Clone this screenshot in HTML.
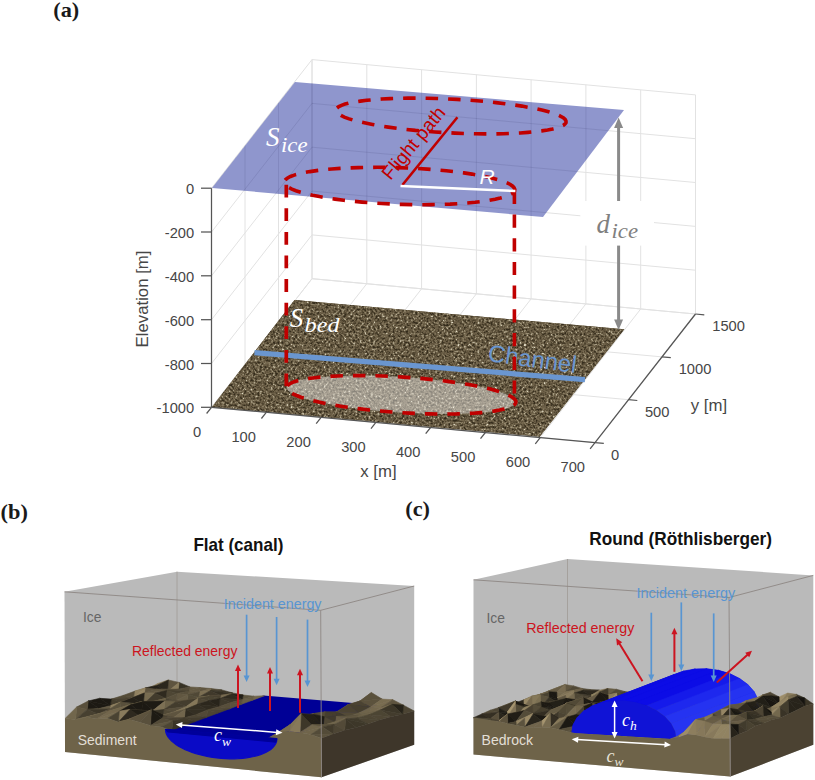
<!DOCTYPE html>
<html><head><meta charset="utf-8"><title>figure</title>
<style>html,body{margin:0;padding:0;background:#fff;}svg{display:block;}</style></head>
<body>
<svg width="815" height="780" viewBox="0 0 815 780">
<rect width="815" height="780" fill="#fff"/>
<defs>
<filter id="speck" x="0" y="0" width="100%" height="100%" color-interpolation-filters="sRGB">
<feTurbulence type="fractalNoise" baseFrequency="0.45" numOctaves="2" seed="7" result="n"/>
<feColorMatrix in="n" type="matrix" values="1.7 0 0 0 -0.43  1.7 0 0 0 -0.43  1.7 0 0 0 -0.43  0 0 0 0 1" result="g"/>
<feComponentTransfer in="g" result="c">
<feFuncR type="table" tableValues="0.20 0.30 0.40 0.47 0.64 0.88"/>
<feFuncG type="table" tableValues="0.17 0.26 0.35 0.42 0.60 0.86"/>
<feFuncB type="table" tableValues="0.11 0.18 0.26 0.32 0.50 0.78"/>
</feComponentTransfer>
<feGaussianBlur in="c" stdDeviation="0.45" result="bl"/>
<feComposite in="bl" in2="SourceGraphic" operator="in"/>
</filter>
</defs>
<g stroke="#e2e2e2" stroke-width="1" fill="none">
<line x1="211.5" y1="407.3" x2="312.0" y2="278.7" />
<line x1="312.0" y1="278.7" x2="312.0" y2="59.6" />
<line x1="266.3" y1="412.3" x2="366.8" y2="283.7" />
<line x1="366.8" y1="283.7" x2="366.8" y2="64.6" />
<line x1="321.1" y1="417.4" x2="421.6" y2="288.8" />
<line x1="421.6" y1="288.8" x2="421.6" y2="69.7" />
<line x1="375.9" y1="422.4" x2="476.4" y2="293.8" />
<line x1="476.4" y1="293.8" x2="476.4" y2="74.7" />
<line x1="430.6" y1="427.5" x2="531.1" y2="298.9" />
<line x1="531.1" y1="298.9" x2="531.1" y2="79.8" />
<line x1="485.4" y1="432.5" x2="585.9" y2="303.9" />
<line x1="585.9" y1="303.9" x2="585.9" y2="84.8" />
<line x1="540.2" y1="437.6" x2="640.7" y2="309.0" />
<line x1="640.7" y1="309.0" x2="640.7" y2="89.9" />
<line x1="595.0" y1="442.6" x2="695.5" y2="314.0" />
<line x1="695.5" y1="314.0" x2="695.5" y2="94.9" />
<line x1="211.5" y1="407.3" x2="595.0" y2="442.6" />
<line x1="211.5" y1="407.3" x2="211.5" y2="188.2" />
<line x1="245.0" y1="364.4" x2="628.5" y2="399.7" />
<line x1="245.0" y1="364.4" x2="245.0" y2="145.3" />
<line x1="278.5" y1="321.6" x2="662.0" y2="356.9" />
<line x1="278.5" y1="321.6" x2="278.5" y2="102.5" />
<line x1="312.0" y1="278.7" x2="695.5" y2="314.0" />
<line x1="312.0" y1="278.7" x2="312.0" y2="59.6" />
<line x1="211.5" y1="407.3" x2="312.0" y2="278.7" />
<line x1="312.0" y1="278.7" x2="695.5" y2="314.0" />
<line x1="211.5" y1="363.5" x2="312.0" y2="234.9" />
<line x1="312.0" y1="234.9" x2="695.5" y2="270.2" />
<line x1="211.5" y1="319.7" x2="312.0" y2="191.1" />
<line x1="312.0" y1="191.1" x2="695.5" y2="226.4" />
<line x1="211.5" y1="275.8" x2="312.0" y2="147.2" />
<line x1="312.0" y1="147.2" x2="695.5" y2="182.5" />
<line x1="211.5" y1="232.0" x2="312.0" y2="103.4" />
<line x1="312.0" y1="103.4" x2="695.5" y2="138.7" />
<line x1="211.5" y1="188.2" x2="312.0" y2="59.6" />
<line x1="312.0" y1="59.6" x2="695.5" y2="94.9" />
</g>
<polygon points="212.0,407.0 294.5,300.0 624.3,329.3 539.7,436.7" fill="#67593f"/>
<polygon points="212.0,407.0 294.5,300.0 624.3,329.3 539.7,436.7" fill="#000" filter="url(#speck)"/>
<line x1="254.5" y1="352.6" x2="585.0" y2="379.6" stroke="#6a96d0" stroke-width="5.2"/>
<path d="M515.3 403.8 L515.9 402.3 L515.7 400.7 L514.5 399.1 L512.5 397.4 L509.7 395.8 L506.0 394.1 L501.6 392.4 L496.3 390.8 L490.4 389.1 L483.8 387.6 L476.5 386.0 L468.7 384.6 L460.4 383.2 L451.6 381.9 L442.4 380.7 L432.9 379.6 L423.2 378.6 L413.3 377.8 L403.3 377.1 L393.3 376.5 L383.4 376.0 L373.6 375.7 L364.0 375.6 L354.7 375.6 L345.7 375.7 L337.2 376.0 L329.2 376.4 L321.7 377.0 L314.8 377.7 L308.6 378.5 L303.1 379.5 L298.3 380.5 L294.3 381.7 L291.1 383.0 L288.8 384.4 L287.3 385.8 L286.7 387.3 L286.9 388.9 L288.1 390.5 L290.1 392.2 L292.9 393.8 L296.6 395.5 L301.0 397.2 L306.3 398.8 L312.2 400.5 L318.8 402.0 L326.1 403.6 L333.9 405.0 L342.2 406.4 L351.0 407.7 L360.2 408.9 L369.7 410.0 L379.4 411.0 L389.3 411.8 L399.3 412.5 L409.3 413.1 L419.2 413.6 L429.0 413.9 L438.6 414.0 L447.9 414.0 L456.9 413.9 L465.4 413.6 L473.4 413.2 L480.9 412.6 L487.8 411.9 L494.0 411.1 L499.5 410.1 L504.3 409.1 L508.3 407.9 L511.5 406.6 L513.8 405.2Z" fill="#fff" fill-opacity="0.42"/>
<path d="M515.3 403.8 L515.9 402.3 L515.7 400.7 L514.5 399.1 L512.5 397.4 L509.7 395.8 L506.0 394.1 L501.6 392.4 L496.3 390.8 L490.4 389.1 L483.8 387.6 L476.5 386.0 L468.7 384.6 L460.4 383.2 L451.6 381.9 L442.4 380.7 L432.9 379.6 L423.2 378.6 L413.3 377.8 L403.3 377.1 L393.3 376.5 L383.4 376.0 L373.6 375.7 L364.0 375.6 L354.7 375.6 L345.7 375.7 L337.2 376.0 L329.2 376.4 L321.7 377.0 L314.8 377.7 L308.6 378.5 L303.1 379.5 L298.3 380.5 L294.3 381.7 L291.1 383.0 L288.8 384.4 L287.3 385.8 L286.7 387.3 L286.9 388.9 L288.1 390.5 L290.1 392.2 L292.9 393.8 L296.6 395.5 L301.0 397.2 L306.3 398.8 L312.2 400.5 L318.8 402.0 L326.1 403.6 L333.9 405.0 L342.2 406.4 L351.0 407.7 L360.2 408.9 L369.7 410.0 L379.4 411.0 L389.3 411.8 L399.3 412.5 L409.3 413.1 L419.2 413.6 L429.0 413.9 L438.6 414.0 L447.9 414.0 L456.9 413.9 L465.4 413.6 L473.4 413.2 L480.9 412.6 L487.8 411.9 L494.0 411.1 L499.5 410.1 L504.3 409.1 L508.3 407.9 L511.5 406.6 L513.8 405.2Z" fill="none" stroke="#c00000" stroke-width="3.6" stroke-dasharray="12.5 10"/>
<text transform="translate(487.3,361) rotate(7.8)" font-family="Liberation Sans, sans-serif" font-size="24" fill="#6a96d0" textLength="89" lengthAdjust="spacingAndGlyphs">Channel</text>
<text x="289.8" y="326.8" font-family="Liberation Serif, serif" font-style="italic" font-size="27" fill="#fff">S</text>
<text x="304.6" y="332.4" font-family="Liberation Serif, serif" font-style="italic" font-size="20.5" fill="#fff" textLength="35" lengthAdjust="spacingAndGlyphs">bed</text>
<polygon points="212.0,188.0 295.0,82.0 624.0,110.0 543.0,217.0" fill="#8f96cd"/>
<clipPath id="icec"><polygon points="212.0,188.0 295.0,82.0 624.0,110.0 543.0,217.0"/></clipPath>
<g clip-path="url(#icec)"><g stroke="rgba(40,40,90,0.12)" stroke-width="1" fill="none">
<line x1="211.5" y1="407.3" x2="312.0" y2="278.7" />
<line x1="312.0" y1="278.7" x2="312.0" y2="59.6" />
<line x1="266.3" y1="412.3" x2="366.8" y2="283.7" />
<line x1="366.8" y1="283.7" x2="366.8" y2="64.6" />
<line x1="321.1" y1="417.4" x2="421.6" y2="288.8" />
<line x1="421.6" y1="288.8" x2="421.6" y2="69.7" />
<line x1="375.9" y1="422.4" x2="476.4" y2="293.8" />
<line x1="476.4" y1="293.8" x2="476.4" y2="74.7" />
<line x1="430.6" y1="427.5" x2="531.1" y2="298.9" />
<line x1="531.1" y1="298.9" x2="531.1" y2="79.8" />
<line x1="485.4" y1="432.5" x2="585.9" y2="303.9" />
<line x1="585.9" y1="303.9" x2="585.9" y2="84.8" />
<line x1="540.2" y1="437.6" x2="640.7" y2="309.0" />
<line x1="640.7" y1="309.0" x2="640.7" y2="89.9" />
<line x1="595.0" y1="442.6" x2="695.5" y2="314.0" />
<line x1="695.5" y1="314.0" x2="695.5" y2="94.9" />
<line x1="211.5" y1="407.3" x2="595.0" y2="442.6" />
<line x1="211.5" y1="407.3" x2="211.5" y2="188.2" />
<line x1="245.0" y1="364.4" x2="628.5" y2="399.7" />
<line x1="245.0" y1="364.4" x2="245.0" y2="145.3" />
<line x1="278.5" y1="321.6" x2="662.0" y2="356.9" />
<line x1="278.5" y1="321.6" x2="278.5" y2="102.5" />
<line x1="312.0" y1="278.7" x2="695.5" y2="314.0" />
<line x1="312.0" y1="278.7" x2="312.0" y2="59.6" />
<line x1="211.5" y1="407.3" x2="312.0" y2="278.7" />
<line x1="312.0" y1="278.7" x2="695.5" y2="314.0" />
<line x1="211.5" y1="363.5" x2="312.0" y2="234.9" />
<line x1="312.0" y1="234.9" x2="695.5" y2="270.2" />
<line x1="211.5" y1="319.7" x2="312.0" y2="191.1" />
<line x1="312.0" y1="191.1" x2="695.5" y2="226.4" />
<line x1="211.5" y1="275.8" x2="312.0" y2="147.2" />
<line x1="312.0" y1="147.2" x2="695.5" y2="182.5" />
<line x1="211.5" y1="232.0" x2="312.0" y2="103.4" />
<line x1="312.0" y1="103.4" x2="695.5" y2="138.7" />
<line x1="211.5" y1="188.2" x2="312.0" y2="59.6" />
<line x1="312.0" y1="59.6" x2="695.5" y2="94.9" />
</g></g>
<line x1="286.3" y1="184.7" x2="286.3" y2="389.0" stroke="#c00000" stroke-width="3.7" stroke-dasharray="12.8 10.8"/>
<line x1="514.4" y1="190.8" x2="514.4" y2="401.5" stroke="#c00000" stroke-width="3.6" stroke-dasharray="13.2 10.5"/>
<path d="M514.5 191.0 L514.8 189.4 L514.1 187.8 L512.7 186.2 L510.3 184.5 L507.1 182.9 L503.1 181.3 L498.3 179.8 L492.7 178.3 L486.5 176.8 L479.5 175.4 L472.0 174.1 L463.9 172.9 L455.4 171.8 L446.3 170.8 L437.0 169.9 L427.3 169.1 L417.5 168.5 L407.5 168.0 L397.4 167.6 L387.4 167.4 L377.5 167.3 L367.7 167.4 L358.1 167.6 L348.9 167.9 L340.1 168.4 L331.7 169.0 L323.8 169.7 L316.5 170.6 L309.9 171.6 L303.9 172.7 L298.7 173.9 L294.2 175.1 L290.5 176.5 L287.6 178.0 L285.6 179.5 L284.5 181.0 L284.2 182.6 L284.9 184.2 L286.3 185.8 L288.7 187.5 L291.9 189.1 L295.9 190.7 L300.7 192.2 L306.3 193.7 L312.5 195.2 L319.5 196.6 L327.0 197.9 L335.1 199.1 L343.6 200.2 L352.7 201.2 L362.0 202.1 L371.7 202.9 L381.5 203.5 L391.5 204.0 L401.6 204.4 L411.6 204.6 L421.5 204.7 L431.3 204.6 L440.9 204.4 L450.1 204.1 L458.9 203.6 L467.3 203.0 L475.2 202.3 L482.5 201.4 L489.1 200.4 L495.1 199.3 L500.3 198.1 L504.8 196.9 L508.5 195.5 L511.4 194.0 L513.4 192.5Z" fill="none" stroke="#c00000" stroke-width="3.6" stroke-dasharray="12.5 10"/>
<path d="M565.0 124.0 L566.0 122.6 L566.0 121.1 L565.3 119.6 L563.6 118.0 L561.1 116.5 L557.7 114.9 L553.6 113.4 L548.6 111.8 L542.9 110.3 L536.5 108.9 L529.5 107.5 L521.9 106.1 L513.7 104.9 L505.0 103.7 L496.0 102.6 L486.6 101.6 L476.9 100.8 L467.0 100.0 L457.0 99.4 L447.0 98.9 L436.9 98.5 L427.0 98.2 L417.3 98.1 L407.9 98.1 L398.7 98.3 L390.0 98.6 L381.7 99.0 L374.0 99.6 L366.8 100.3 L360.3 101.1 L354.4 102.0 L349.3 103.0 L345.0 104.1 L341.5 105.3 L338.8 106.6 L337.0 108.0 L336.0 109.4 L336.0 110.9 L336.7 112.4 L338.4 114.0 L340.9 115.5 L344.3 117.1 L348.4 118.6 L353.4 120.2 L359.1 121.7 L365.5 123.1 L372.5 124.5 L380.1 125.9 L388.3 127.1 L397.0 128.3 L406.0 129.4 L415.4 130.4 L425.1 131.2 L435.0 132.0 L445.0 132.6 L455.0 133.1 L465.1 133.5 L475.0 133.8 L484.7 133.9 L494.1 133.9 L503.3 133.7 L512.0 133.4 L520.3 133.0 L528.0 132.4 L535.2 131.7 L541.7 130.9 L547.6 130.0 L552.7 129.0 L557.0 127.9 L560.5 126.7 L563.2 125.4Z" fill="none" stroke="#c00000" stroke-width="3.6" stroke-dasharray="12.5 10"/>
<line x1="402.4" y1="185.0" x2="457.4" y2="117.3" stroke="#c00000" stroke-width="2.6"/>
<line x1="400.5" y1="186.0" x2="515.4" y2="191.0" stroke="#fff" stroke-width="2.4"/>
<text transform="translate(390.5,181) rotate(-50.5)" font-family="Liberation Sans, sans-serif" font-size="19" fill="#c00000" textLength="88" lengthAdjust="spacingAndGlyphs">Flight path</text>
<text x="479.5" y="184" font-family="Liberation Sans, sans-serif" font-style="italic" font-size="21" fill="#fff">R</text>
<text x="266" y="146" font-family="Liberation Serif, serif" font-style="italic" font-size="27" fill="#fff">S</text>
<text x="281" y="151.5" font-family="Liberation Serif, serif" font-style="italic" font-size="20" fill="#fff" textLength="26.5" lengthAdjust="spacingAndGlyphs">ice</text>
<line x1="618.6" y1="126.0" x2="618.6" y2="322.0" stroke="#8a8a8a" stroke-width="3"/>
<polygon points="618.6,117.5 614.1,128 623.1,128" fill="#8a8a8a"/>
<polygon points="618.6,330 614.1,319.5 623.1,319.5" fill="#8a8a8a"/>
<rect x="580.3" y="201" width="73.7" height="44.6" fill="#fff"/>
<text x="596.5" y="233" font-family="Liberation Serif, serif" font-style="italic" font-size="27" fill="#808080">d</text>
<text x="611.5" y="238" font-family="Liberation Serif, serif" font-style="italic" font-size="20" fill="#808080" textLength="26.5" lengthAdjust="spacingAndGlyphs">ice</text>
<g stroke="#555555" stroke-width="1.25" fill="none">
<line x1="211.5" y1="188.2" x2="211.5" y2="407.3" />
<line x1="211.5" y1="407.3" x2="595.0" y2="442.6" />
<line x1="595.0" y1="442.6" x2="695.5" y2="314.0" />
<line x1="211.5" y1="407.3" x2="201.0" y2="407.3" />
<line x1="211.5" y1="363.5" x2="201.0" y2="363.5" />
<line x1="211.5" y1="319.7" x2="201.0" y2="319.7" />
<line x1="211.5" y1="275.8" x2="201.0" y2="275.8" />
<line x1="211.5" y1="232.0" x2="201.0" y2="232.0" />
<line x1="211.5" y1="188.2" x2="201.0" y2="188.2" />
<line x1="211.5" y1="407.3" x2="206.6" y2="413.5" />
<line x1="266.3" y1="412.3" x2="261.4" y2="418.5" />
<line x1="321.1" y1="417.4" x2="316.2" y2="423.6" />
<line x1="375.9" y1="422.4" x2="371.0" y2="428.6" />
<line x1="430.6" y1="427.5" x2="425.7" y2="433.7" />
<line x1="485.4" y1="432.5" x2="480.5" y2="438.7" />
<line x1="540.2" y1="437.6" x2="535.3" y2="443.8" />
<line x1="595.0" y1="442.6" x2="590.1" y2="448.8" />
<line x1="595.0" y1="442.6" x2="603.8" y2="443.4" />
<line x1="628.5" y1="399.7" x2="637.3" y2="400.5" />
<line x1="662.0" y1="356.9" x2="670.8" y2="357.7" />
<line x1="695.5" y1="314.0" x2="704.3" y2="314.8" />
</g>
<g font-family="Liberation Sans, sans-serif" font-size="14.7" fill="#464646">
<text x="194.2" y="413.4" text-anchor="end">-1000</text>
<text x="194.2" y="369.6" text-anchor="end">-800</text>
<text x="194.2" y="325.8" text-anchor="end">-600</text>
<text x="194.2" y="281.9" text-anchor="end">-400</text>
<text x="194.2" y="238.1" text-anchor="end">-200</text>
<text x="194.2" y="194.3" text-anchor="end">0</text>
<text x="197.0" y="437.4" text-anchor="middle">0</text>
<text x="243.7" y="442.3" text-anchor="middle">100</text>
<text x="298.6" y="447.2" text-anchor="middle">200</text>
<text x="353.4" y="452.1" text-anchor="middle">300</text>
<text x="408.2" y="456.9" text-anchor="middle">400</text>
<text x="463.1" y="461.8" text-anchor="middle">500</text>
<text x="518.0" y="466.7" text-anchor="middle">600</text>
<text x="572.8" y="471.6" text-anchor="middle">700</text>
<text x="615.2" y="459.8" text-anchor="middle">0</text>
<text x="657.2" y="417.4" text-anchor="middle">500</text>
<text x="695.0" y="374.4" text-anchor="middle">1000</text>
<text x="728.6" y="331.4" text-anchor="middle">1500</text>
</g>
<g font-family="Liberation Sans, sans-serif" font-size="16.8" fill="#464646">
<text x="378.5" y="476.6" text-anchor="middle">x [m]</text>
<text x="709" y="411" text-anchor="middle">y [m]</text>
<text transform="translate(147.6,299) rotate(-90)" text-anchor="middle">Elevation [m]</text>
</g>
<text x="53.3" y="16.6" font-family="Liberation Serif, serif" font-weight="bold" font-size="22" fill="#1a1a1a" textLength="26" lengthAdjust="spacingAndGlyphs">(a)</text>
<polygon points="64.5,591.8 177.0,571.7 414.2,586.0 414.2,744.8 321.5,777.3 65.0,752.0" fill="#bababa"/>
<line x1="177.0" y1="571.7" x2="177.0" y2="700.0" stroke="#a39e9a" stroke-width="0.9"/>
<polygon points="165.5,729.7 263.4,695.6 379.8,705.3 282.0,739.4" fill="#000096"/>
<polygon points="156.8,685.4 168.4,680.0 157.7,683.5" fill="#8a7c5d" stroke="#8a7c5d" stroke-width="0.6"/>
<polygon points="146.1,689.7 156.8,685.4 157.7,683.5" fill="#918261" stroke="#918261" stroke-width="0.6"/>
<polygon points="167.5,691.7 179.1,682.4 168.4,680.0" fill="#5e543f" stroke="#5e543f" stroke-width="0.6"/>
<polygon points="156.8,685.4 167.5,691.7 168.4,680.0" fill="#2b271d" stroke="#2b271d" stroke-width="0.6"/>
<polygon points="178.2,689.3 189.8,686.9 179.1,682.4" fill="#373225" stroke="#373225" stroke-width="0.6"/>
<polygon points="167.5,691.7 178.2,689.3 179.1,682.4" fill="#8a7c5c" stroke="#8a7c5c" stroke-width="0.6"/>
<polygon points="188.9,691.1 200.4,687.6 189.8,686.9" fill="#635942" stroke="#635942" stroke-width="0.6"/>
<polygon points="178.2,689.3 188.9,691.1 189.8,686.9" fill="#544b38" stroke="#544b38" stroke-width="0.6"/>
<polygon points="199.5,691.8 211.1,688.5 200.4,687.6" fill="#5f5540" stroke="#5f5540" stroke-width="0.6"/>
<polygon points="188.9,691.1 199.5,691.8 200.4,687.6" fill="#635943" stroke="#635943" stroke-width="0.6"/>
<polygon points="210.2,690.7 221.8,689.9 211.1,688.5" fill="#544b38" stroke="#544b38" stroke-width="0.6"/>
<polygon points="199.5,691.8 210.2,690.7 211.1,688.5" fill="#73674d" stroke="#73674d" stroke-width="0.6"/>
<polygon points="210.2,690.7 232.5,692.9 221.8,689.9" fill="#423b2c" stroke="#423b2c" stroke-width="0.6"/>
<polygon points="210.2,690.7 220.9,695.4 232.5,692.9" fill="#353024" stroke="#353024" stroke-width="0.6"/>
<polygon points="220.9,695.4 243.2,695.0 232.5,692.9" fill="#524937" stroke="#524937" stroke-width="0.6"/>
<polygon points="220.9,695.4 231.6,693.9 243.2,695.0" fill="#685d46" stroke="#685d46" stroke-width="0.6"/>
<polygon points="242.3,699.6 253.9,696.2 243.2,695.0" fill="#5d543e" stroke="#5d543e" stroke-width="0.6"/>
<polygon points="231.6,693.9 242.3,699.6 243.2,695.0" fill="#221f17" stroke="#221f17" stroke-width="0.6"/>
<polygon points="253.0,700.0 264.6,695.7 253.9,696.2" fill="#70654b" stroke="#70654b" stroke-width="0.6"/>
<polygon points="242.3,699.6 253.0,700.0 253.9,696.2" fill="#655b44" stroke="#655b44" stroke-width="0.6"/>
<polygon points="359.9,701.1 371.4,692.5 360.8,703.7" fill="#71664c" stroke="#71664c" stroke-width="0.6"/>
<polygon points="349.2,708.1 359.9,701.1 360.8,703.7" fill="#6e6249" stroke="#6e6249" stroke-width="0.6"/>
<polygon points="359.9,701.1 382.1,699.1 371.4,692.5" fill="#5a513c" stroke="#5a513c" stroke-width="0.6"/>
<polygon points="359.9,701.1 370.5,707.1 382.1,699.1" fill="#5c523d" stroke="#5c523d" stroke-width="0.6"/>
<polygon points="370.5,707.1 392.8,699.7 382.1,699.1" fill="#786c50" stroke="#786c50" stroke-width="0.6"/>
<polygon points="370.5,707.1 381.2,707.5 392.8,699.7" fill="#786c50" stroke="#786c50" stroke-width="0.6"/>
<polygon points="381.2,707.5 403.5,705.2 392.8,699.7" fill="#5e543f" stroke="#5e543f" stroke-width="0.6"/>
<polygon points="381.2,707.5 391.9,704.3 403.5,705.2" fill="#59503c" stroke="#59503c" stroke-width="0.6"/>
<polygon points="402.6,714.3 414.2,711.0 403.5,705.2" fill="#4c4433" stroke="#4c4433" stroke-width="0.6"/>
<polygon points="391.9,704.3 402.6,714.3 403.5,705.2" fill="#27231a" stroke="#27231a" stroke-width="0.6"/>
<polygon points="145.2,688.0 156.8,685.4 146.1,689.7" fill="#887a5b" stroke="#887a5b" stroke-width="0.6"/>
<polygon points="134.5,691.3 145.2,688.0 146.1,689.7" fill="#7f7255" stroke="#7f7255" stroke-width="0.6"/>
<polygon points="145.2,688.0 167.5,691.7 156.8,685.4" fill="#252119" stroke="#252119" stroke-width="0.6"/>
<polygon points="145.2,688.0 155.9,689.3 167.5,691.7" fill="#4a4231" stroke="#4a4231" stroke-width="0.6"/>
<polygon points="155.9,689.3 178.2,689.3 167.5,691.7" fill="#6b6047" stroke="#6b6047" stroke-width="0.6"/>
<polygon points="155.9,689.3 166.6,690.4 178.2,689.3" fill="#584f3b" stroke="#584f3b" stroke-width="0.6"/>
<polygon points="166.6,690.4 188.9,691.1 178.2,689.3" fill="#504836" stroke="#504836" stroke-width="0.6"/>
<polygon points="166.6,690.4 177.3,693.4 188.9,691.1" fill="#463f2f" stroke="#463f2f" stroke-width="0.6"/>
<polygon points="188.0,694.8 199.5,691.8 188.9,691.1" fill="#625842" stroke="#625842" stroke-width="0.6"/>
<polygon points="177.3,693.4 188.0,694.8 188.9,691.1" fill="#584f3b" stroke="#584f3b" stroke-width="0.6"/>
<polygon points="198.6,697.2 210.2,690.7 199.5,691.8" fill="#7b6e52" stroke="#7b6e52" stroke-width="0.6"/>
<polygon points="188.0,694.8 198.6,697.2 199.5,691.8" fill="#504836" stroke="#504836" stroke-width="0.6"/>
<polygon points="198.6,697.2 220.9,695.4 210.2,690.7" fill="#40392b" stroke="#40392b" stroke-width="0.6"/>
<polygon points="198.6,697.2 209.3,696.0 220.9,695.4" fill="#6b6048" stroke="#6b6048" stroke-width="0.6"/>
<polygon points="220.0,698.5 231.6,693.9 220.9,695.4" fill="#7a6d52" stroke="#7a6d52" stroke-width="0.6"/>
<polygon points="209.3,696.0 220.0,698.5 220.9,695.4" fill="#484030" stroke="#484030" stroke-width="0.6"/>
<polygon points="220.0,698.5 242.3,699.6 231.6,693.9" fill="#302b20" stroke="#302b20" stroke-width="0.6"/>
<polygon points="220.0,698.5 230.7,702.6 242.3,699.6" fill="#3d3629" stroke="#3d3629" stroke-width="0.6"/>
<polygon points="241.4,704.3 253.0,700.0 242.3,699.6" fill="#675d45" stroke="#675d45" stroke-width="0.6"/>
<polygon points="230.7,702.6 241.4,704.3 242.3,699.6" fill="#574e3a" stroke="#574e3a" stroke-width="0.6"/>
<polygon points="337.6,712.4 359.9,701.1 349.2,708.1" fill="#6e6249" stroke="#6e6249" stroke-width="0.6"/>
<polygon points="337.6,712.4 348.3,704.6 359.9,701.1" fill="#695f47" stroke="#695f47" stroke-width="0.6"/>
<polygon points="348.3,704.6 370.5,707.1 359.9,701.1" fill="#4b4332" stroke="#4b4332" stroke-width="0.6"/>
<polygon points="348.3,704.6 359.0,713.0 370.5,707.1" fill="#463f2f" stroke="#463f2f" stroke-width="0.6"/>
<polygon points="369.6,713.9 381.2,707.5 370.5,707.1" fill="#73674d" stroke="#73674d" stroke-width="0.6"/>
<polygon points="359.0,713.0 369.6,713.9 370.5,707.1" fill="#6f644b" stroke="#6f644b" stroke-width="0.6"/>
<polygon points="369.6,713.9 391.9,704.3 381.2,707.5" fill="#786c51" stroke="#786c51" stroke-width="0.6"/>
<polygon points="369.6,713.9 380.3,710.1 391.9,704.3" fill="#766a4f" stroke="#766a4f" stroke-width="0.6"/>
<polygon points="380.3,710.1 402.6,714.3 391.9,704.3" fill="#3d3729" stroke="#3d3729" stroke-width="0.6"/>
<polygon points="380.3,710.1 391.0,716.7 402.6,714.3" fill="#433c2d" stroke="#433c2d" stroke-width="0.6"/>
<polygon points="133.6,697.6 145.2,688.0 134.5,691.3" fill="#908160" stroke="#908160" stroke-width="0.6"/>
<polygon points="122.9,695.5 133.6,697.6 134.5,691.3" fill="#564d39" stroke="#564d39" stroke-width="0.6"/>
<polygon points="144.3,693.0 155.9,689.3 145.2,688.0" fill="#5d533e" stroke="#5d533e" stroke-width="0.6"/>
<polygon points="133.6,697.6 144.3,693.0 145.2,688.0" fill="#978765" stroke="#978765" stroke-width="0.6"/>
<polygon points="144.3,693.0 166.6,690.4 155.9,689.3" fill="#605640" stroke="#605640" stroke-width="0.6"/>
<polygon points="144.3,693.0 155.0,693.2 166.6,690.4" fill="#665b44" stroke="#665b44" stroke-width="0.6"/>
<polygon points="165.7,698.5 177.3,693.4 166.6,690.4" fill="#4e4634" stroke="#4e4634" stroke-width="0.6"/>
<polygon points="155.0,693.2 165.7,698.5 166.6,690.4" fill="#2f2a1f" stroke="#2f2a1f" stroke-width="0.6"/>
<polygon points="176.4,700.6 188.0,694.8 177.3,693.4" fill="#615741" stroke="#615741" stroke-width="0.6"/>
<polygon points="165.7,698.5 176.4,700.6 177.3,693.4" fill="#59503c" stroke="#59503c" stroke-width="0.6"/>
<polygon points="187.1,701.5 198.6,697.2 188.0,694.8" fill="#534b38" stroke="#534b38" stroke-width="0.6"/>
<polygon points="176.4,700.6 187.1,701.5 188.0,694.8" fill="#665c45" stroke="#665c45" stroke-width="0.6"/>
<polygon points="187.1,701.5 209.3,696.0 198.6,697.2" fill="#766a4f" stroke="#766a4f" stroke-width="0.6"/>
<polygon points="187.1,701.5 197.8,698.2 209.3,696.0" fill="#817356" stroke="#817356" stroke-width="0.6"/>
<polygon points="208.4,700.8 220.0,698.5 209.3,696.0" fill="#4c4533" stroke="#4c4533" stroke-width="0.6"/>
<polygon points="197.8,698.2 208.4,700.8 209.3,696.0" fill="#4a4332" stroke="#4a4332" stroke-width="0.6"/>
<polygon points="219.1,706.7 230.7,702.6 220.0,698.5" fill="#3f392b" stroke="#3f392b" stroke-width="0.6"/>
<polygon points="208.4,700.8 219.1,706.7 220.0,698.5" fill="#28241b" stroke="#28241b" stroke-width="0.6"/>
<polygon points="229.8,708.7 241.4,704.3 230.7,702.6" fill="#5a513c" stroke="#5a513c" stroke-width="0.6"/>
<polygon points="219.1,706.7 229.8,708.7 230.7,702.6" fill="#574e3a" stroke="#574e3a" stroke-width="0.6"/>
<polygon points="336.7,711.9 348.3,704.6 337.6,712.4" fill="#766a4f" stroke="#766a4f" stroke-width="0.6"/>
<polygon points="326.0,716.7 336.7,711.9 337.6,712.4" fill="#70654b" stroke="#70654b" stroke-width="0.6"/>
<polygon points="336.7,711.9 359.0,713.0 348.3,704.6" fill="#4b4332" stroke="#4b4332" stroke-width="0.6"/>
<polygon points="336.7,711.9 347.4,716.7 359.0,713.0" fill="#534a37" stroke="#534a37" stroke-width="0.6"/>
<polygon points="347.4,716.7 369.6,713.9 359.0,713.0" fill="#665c44" stroke="#665c44" stroke-width="0.6"/>
<polygon points="347.4,716.7 358.1,715.6 369.6,713.9" fill="#625842" stroke="#625842" stroke-width="0.6"/>
<polygon points="358.1,715.6 380.3,710.1 369.6,713.9" fill="#655b44" stroke="#655b44" stroke-width="0.6"/>
<polygon points="358.1,715.6 368.8,714.8 380.3,710.1" fill="#6f644b" stroke="#6f644b" stroke-width="0.6"/>
<polygon points="368.8,714.8 391.0,716.7 380.3,710.1" fill="#4c4533" stroke="#4c4533" stroke-width="0.6"/>
<polygon points="368.8,714.8 379.4,720.0 391.0,716.7" fill="#4f4735" stroke="#4f4735" stroke-width="0.6"/>
<polygon points="111.3,699.1 133.6,697.6 122.9,695.5" fill="#544c38" stroke="#544c38" stroke-width="0.6"/>
<polygon points="111.3,699.1 122.0,702.5 133.6,697.6" fill="#4a4231" stroke="#4a4231" stroke-width="0.6"/>
<polygon points="122.0,702.5 144.3,693.0 133.6,697.6" fill="#8f8160" stroke="#8f8160" stroke-width="0.6"/>
<polygon points="122.0,702.5 132.7,697.5 144.3,693.0" fill="#908161" stroke="#908161" stroke-width="0.6"/>
<polygon points="143.4,704.3 155.0,693.2 144.3,693.0" fill="#776b50" stroke="#776b50" stroke-width="0.6"/>
<polygon points="132.7,697.5 143.4,704.3 144.3,693.0" fill="#252119" stroke="#252119" stroke-width="0.6"/>
<polygon points="143.4,704.3 165.7,698.5 155.0,693.2" fill="#423b2c" stroke="#423b2c" stroke-width="0.6"/>
<polygon points="143.4,704.3 154.1,701.3 165.7,698.5" fill="#817356" stroke="#817356" stroke-width="0.6"/>
<polygon points="164.8,701.1 176.4,700.6 165.7,698.5" fill="#4b4433" stroke="#4b4433" stroke-width="0.6"/>
<polygon points="154.1,701.3 164.8,701.1 165.7,698.5" fill="#6a5f47" stroke="#6a5f47" stroke-width="0.6"/>
<polygon points="164.8,701.1 187.1,701.5 176.4,700.6" fill="#574e3a" stroke="#574e3a" stroke-width="0.6"/>
<polygon points="164.8,701.1 175.5,701.9 187.1,701.5" fill="#584f3b" stroke="#584f3b" stroke-width="0.6"/>
<polygon points="175.5,701.9 197.8,698.2 187.1,701.5" fill="#7b6e52" stroke="#7b6e52" stroke-width="0.6"/>
<polygon points="175.5,701.9 186.2,706.5 197.8,698.2" fill="#443d2e" stroke="#443d2e" stroke-width="0.6"/>
<polygon points="196.8,704.6 208.4,700.8 197.8,698.2" fill="#4f4735" stroke="#4f4735" stroke-width="0.6"/>
<polygon points="186.2,706.5 196.8,704.6 197.8,698.2" fill="#857759" stroke="#857759" stroke-width="0.6"/>
<polygon points="196.8,704.6 219.1,706.7 208.4,700.8" fill="#2c271d" stroke="#2c271d" stroke-width="0.6"/>
<polygon points="196.8,704.6 207.5,709.9 219.1,706.7" fill="#302b20" stroke="#302b20" stroke-width="0.6"/>
<polygon points="207.5,709.9 229.8,708.7 219.1,706.7" fill="#554c39" stroke="#554c39" stroke-width="0.6"/>
<polygon points="207.5,709.9 218.2,713.0 229.8,708.7" fill="#4c4433" stroke="#4c4433" stroke-width="0.6"/>
<polygon points="314.4,721.0 336.7,711.9 326.0,716.7" fill="#70654b" stroke="#70654b" stroke-width="0.6"/>
<polygon points="314.4,721.0 325.1,711.9 336.7,711.9" fill="#5b523d" stroke="#5b523d" stroke-width="0.6"/>
<polygon points="335.8,716.5 347.4,716.7 336.7,711.9" fill="#413b2c" stroke="#413b2c" stroke-width="0.6"/>
<polygon points="325.1,711.9 335.8,716.5 336.7,711.9" fill="#443d2e" stroke="#443d2e" stroke-width="0.6"/>
<polygon points="335.8,716.5 358.1,715.6 347.4,716.7" fill="#59503b" stroke="#59503b" stroke-width="0.6"/>
<polygon points="335.8,716.5 346.5,717.8 358.1,715.6" fill="#5d543f" stroke="#5d543f" stroke-width="0.6"/>
<polygon points="357.2,717.9 368.8,714.8 358.1,715.6" fill="#685e46" stroke="#685e46" stroke-width="0.6"/>
<polygon points="346.5,717.8 357.2,717.9 358.1,715.6" fill="#625842" stroke="#625842" stroke-width="0.6"/>
<polygon points="357.2,717.9 379.4,720.0 368.8,714.8" fill="#4e4634" stroke="#4e4634" stroke-width="0.6"/>
<polygon points="357.2,717.9 367.9,724.1 379.4,720.0" fill="#4c4433" stroke="#4c4433" stroke-width="0.6"/>
<polygon points="110.4,705.8 122.0,702.5 111.3,699.1" fill="#453e2e" stroke="#453e2e" stroke-width="0.6"/>
<polygon points="99.8,698.3 110.4,705.8 111.3,699.1" fill="#1c1913" stroke="#1c1913" stroke-width="0.6"/>
<polygon points="121.1,702.1 132.7,697.5 122.0,702.5" fill="#908161" stroke="#908161" stroke-width="0.6"/>
<polygon points="110.4,705.8 121.1,702.1 122.0,702.5" fill="#86785a" stroke="#86785a" stroke-width="0.6"/>
<polygon points="121.1,702.1 143.4,704.3 132.7,697.5" fill="#252119" stroke="#252119" stroke-width="0.6"/>
<polygon points="121.1,702.1 131.8,704.4 143.4,704.3" fill="#47402f" stroke="#47402f" stroke-width="0.6"/>
<polygon points="142.5,701.5 154.1,701.3 143.4,704.3" fill="#786c51" stroke="#786c51" stroke-width="0.6"/>
<polygon points="131.8,704.4 142.5,701.5 143.4,704.3" fill="#776b50" stroke="#776b50" stroke-width="0.6"/>
<polygon points="142.5,701.5 164.8,701.1 154.1,701.3" fill="#615841" stroke="#615841" stroke-width="0.6"/>
<polygon points="142.5,701.5 153.2,710.3 164.8,701.1" fill="#1e1b14" stroke="#1e1b14" stroke-width="0.6"/>
<polygon points="163.9,709.6 175.5,701.9 164.8,701.1" fill="#6c6148" stroke="#6c6148" stroke-width="0.6"/>
<polygon points="153.2,710.3 163.9,709.6 164.8,701.1" fill="#7d7054" stroke="#7d7054" stroke-width="0.6"/>
<polygon points="163.9,709.6 186.2,706.5 175.5,701.9" fill="#433c2d" stroke="#433c2d" stroke-width="0.6"/>
<polygon points="163.9,709.6 174.6,711.8 186.2,706.5" fill="#574e3b" stroke="#574e3b" stroke-width="0.6"/>
<polygon points="174.6,711.8 196.8,704.6 186.2,706.5" fill="#7f7255" stroke="#7f7255" stroke-width="0.6"/>
<polygon points="174.6,711.8 185.3,709.3 196.8,704.6" fill="#827557" stroke="#827557" stroke-width="0.6"/>
<polygon points="185.3,709.3 207.5,709.9 196.8,704.6" fill="#342f23" stroke="#342f23" stroke-width="0.6"/>
<polygon points="185.3,709.3 195.9,714.7 207.5,709.9" fill="#342f23" stroke="#342f23" stroke-width="0.6"/>
<polygon points="206.6,717.3 218.2,713.0 207.5,709.9" fill="#4c4433" stroke="#4c4433" stroke-width="0.6"/>
<polygon points="195.9,714.7 206.6,717.3 207.5,709.9" fill="#524937" stroke="#524937" stroke-width="0.6"/>
<polygon points="302.8,725.3 325.1,711.9 314.4,721.0" fill="#6a5f47" stroke="#6a5f47" stroke-width="0.6"/>
<polygon points="302.8,725.3 313.5,713.6 325.1,711.9" fill="#5e543f" stroke="#5e543f" stroke-width="0.6"/>
<polygon points="324.2,716.8 335.8,716.5 325.1,711.9" fill="#453e2e" stroke="#453e2e" stroke-width="0.6"/>
<polygon points="313.5,713.6 324.2,716.8 325.1,711.9" fill="#534a38" stroke="#534a38" stroke-width="0.6"/>
<polygon points="334.9,722.1 346.5,717.8 335.8,716.5" fill="#675c45" stroke="#675c45" stroke-width="0.6"/>
<polygon points="324.2,716.8 334.9,722.1 335.8,716.5" fill="#413b2c" stroke="#413b2c" stroke-width="0.6"/>
<polygon points="345.6,719.0 357.2,717.9 346.5,717.8" fill="#5d533e" stroke="#5d533e" stroke-width="0.6"/>
<polygon points="334.9,722.1 345.6,719.0 346.5,717.8" fill="#70654b" stroke="#70654b" stroke-width="0.6"/>
<polygon points="345.6,719.0 367.9,724.1 357.2,717.9" fill="#403a2b" stroke="#403a2b" stroke-width="0.6"/>
<polygon points="345.6,719.0 356.3,727.4 367.9,724.1" fill="#3d3729" stroke="#3d3729" stroke-width="0.6"/>
<polygon points="88.2,701.0 110.4,705.8 99.8,698.3" fill="#1c1913" stroke="#1c1913" stroke-width="0.6"/>
<polygon points="88.2,701.0 98.9,708.6 110.4,705.8" fill="#1c1913" stroke="#1c1913" stroke-width="0.6"/>
<polygon points="109.5,709.0 121.1,702.1 110.4,705.8" fill="#8f8060" stroke="#8f8060" stroke-width="0.6"/>
<polygon points="98.9,708.6 109.5,709.0 110.4,705.8" fill="#635943" stroke="#635943" stroke-width="0.6"/>
<polygon points="120.2,711.2 131.8,704.4 121.1,702.1" fill="#59503c" stroke="#59503c" stroke-width="0.6"/>
<polygon points="109.5,709.0 120.2,711.2 121.1,702.1" fill="#5b523d" stroke="#5b523d" stroke-width="0.6"/>
<polygon points="120.2,711.2 142.5,701.5 131.8,704.4" fill="#897b5c" stroke="#897b5c" stroke-width="0.6"/>
<polygon points="120.2,711.2 130.9,704.5 142.5,701.5" fill="#938462" stroke="#938462" stroke-width="0.6"/>
<polygon points="141.6,714.2 153.2,710.3 142.5,701.5" fill="#1c1913" stroke="#1c1913" stroke-width="0.6"/>
<polygon points="130.9,704.5 141.6,714.2 142.5,701.5" fill="#1c1913" stroke="#1c1913" stroke-width="0.6"/>
<polygon points="152.3,711.1 163.9,709.6 153.2,710.3" fill="#6a5f47" stroke="#6a5f47" stroke-width="0.6"/>
<polygon points="141.6,714.2 152.3,711.1 153.2,710.3" fill="#847759" stroke="#847759" stroke-width="0.6"/>
<polygon points="163.0,715.2 174.6,711.8 163.9,709.6" fill="#524a37" stroke="#524a37" stroke-width="0.6"/>
<polygon points="152.3,711.1 163.0,715.2 163.9,709.6" fill="#383326" stroke="#383326" stroke-width="0.6"/>
<polygon points="163.0,715.2 185.3,709.3 174.6,711.8" fill="#7f7255" stroke="#7f7255" stroke-width="0.6"/>
<polygon points="163.0,715.2 173.7,717.4 185.3,709.3" fill="#5e543f" stroke="#5e543f" stroke-width="0.6"/>
<polygon points="184.4,717.8 195.9,714.7 185.3,709.3" fill="#302b20" stroke="#302b20" stroke-width="0.6"/>
<polygon points="173.7,717.4 184.4,717.8 185.3,709.3" fill="#71654c" stroke="#71654c" stroke-width="0.6"/>
<polygon points="184.4,717.8 206.6,717.3 195.9,714.7" fill="#4d4534" stroke="#4d4534" stroke-width="0.6"/>
<polygon points="184.4,717.8 195.1,721.6 206.6,717.3" fill="#433c2d" stroke="#433c2d" stroke-width="0.6"/>
<polygon points="291.2,729.6 313.5,713.6 302.8,725.3" fill="#655b44" stroke="#655b44" stroke-width="0.6"/>
<polygon points="291.2,729.6 301.9,716.3 313.5,713.6" fill="#5e543f" stroke="#5e543f" stroke-width="0.6"/>
<polygon points="312.6,714.5 324.2,716.8 313.5,713.6" fill="#40392b" stroke="#40392b" stroke-width="0.6"/>
<polygon points="301.9,716.3 312.6,714.5 313.5,713.6" fill="#685d46" stroke="#685d46" stroke-width="0.6"/>
<polygon points="323.3,725.4 334.9,722.1 324.2,716.8" fill="#4e4634" stroke="#4e4634" stroke-width="0.6"/>
<polygon points="312.6,714.5 323.3,725.4 324.2,716.8" fill="#1f1c15" stroke="#1f1c15" stroke-width="0.6"/>
<polygon points="323.3,725.4 345.6,719.0 334.9,722.1" fill="#6c6148" stroke="#6c6148" stroke-width="0.6"/>
<polygon points="323.3,725.4 334.0,724.4 345.6,719.0" fill="#72674d" stroke="#72674d" stroke-width="0.6"/>
<polygon points="344.7,730.3 356.3,727.4 345.6,719.0" fill="#3c3628" stroke="#3c3628" stroke-width="0.6"/>
<polygon points="334.0,724.4 344.7,730.3 345.6,719.0" fill="#534a38" stroke="#534a38" stroke-width="0.6"/>
<polygon points="87.3,709.4 98.9,708.6 88.2,701.0" fill="#1c1913" stroke="#1c1913" stroke-width="0.6"/>
<polygon points="76.6,707.1 87.3,709.4 88.2,701.0" fill="#584f3b" stroke="#584f3b" stroke-width="0.6"/>
<polygon points="87.3,709.4 109.5,709.0 98.9,708.6" fill="#5d543e" stroke="#5d543e" stroke-width="0.6"/>
<polygon points="87.3,709.4 98.0,714.1 109.5,709.0" fill="#3c3628" stroke="#3c3628" stroke-width="0.6"/>
<polygon points="98.0,714.1 120.2,711.2 109.5,709.0" fill="#574e3a" stroke="#574e3a" stroke-width="0.6"/>
<polygon points="98.0,714.1 108.7,711.3 120.2,711.2" fill="#766a4f" stroke="#766a4f" stroke-width="0.6"/>
<polygon points="108.7,711.3 130.9,704.5 120.2,711.2" fill="#8b7d5d" stroke="#8b7d5d" stroke-width="0.6"/>
<polygon points="108.7,711.3 119.3,711.3 130.9,704.5" fill="#72664c" stroke="#72664c" stroke-width="0.6"/>
<polygon points="119.3,711.3 141.6,714.2 130.9,704.5" fill="#1c1913" stroke="#1c1913" stroke-width="0.6"/>
<polygon points="119.3,711.3 130.0,709.4 141.6,714.2" fill="#5e543f" stroke="#5e543f" stroke-width="0.6"/>
<polygon points="130.0,709.4 152.3,711.1 141.6,714.2" fill="#675c45" stroke="#675c45" stroke-width="0.6"/>
<polygon points="130.0,709.4 140.7,717.1 152.3,711.1" fill="#201d15" stroke="#201d15" stroke-width="0.6"/>
<polygon points="151.4,709.9 163.0,715.2 152.3,711.1" fill="#262219" stroke="#262219" stroke-width="0.6"/>
<polygon points="140.7,717.1 151.4,709.9 152.3,711.1" fill="#9b8b68" stroke="#9b8b68" stroke-width="0.6"/>
<polygon points="162.1,718.2 173.7,717.4 163.0,715.2" fill="#4b4332" stroke="#4b4332" stroke-width="0.6"/>
<polygon points="151.4,709.9 162.1,718.2 163.0,715.2" fill="#1c1913" stroke="#1c1913" stroke-width="0.6"/>
<polygon points="162.1,718.2 184.4,717.8 173.7,717.4" fill="#5e543f" stroke="#5e543f" stroke-width="0.6"/>
<polygon points="162.1,718.2 172.8,721.1 184.4,717.8" fill="#4a4232" stroke="#4a4232" stroke-width="0.6"/>
<polygon points="172.8,721.1 195.1,721.6 184.4,717.8" fill="#413a2b" stroke="#413a2b" stroke-width="0.6"/>
<polygon points="172.8,721.1 183.5,725.9 195.1,721.6" fill="#393326" stroke="#393326" stroke-width="0.6"/>
<polygon points="290.3,724.6 301.9,716.3 291.2,729.6" fill="#6c6148" stroke="#6c6148" stroke-width="0.6"/>
<polygon points="279.6,733.9 290.3,724.6 291.2,729.6" fill="#6a5f47" stroke="#6a5f47" stroke-width="0.6"/>
<polygon points="301.0,713.7 312.6,714.5 301.9,716.3" fill="#574e3a" stroke="#574e3a" stroke-width="0.6"/>
<polygon points="290.3,724.6 301.0,713.7 301.9,716.3" fill="#71664c" stroke="#71664c" stroke-width="0.6"/>
<polygon points="301.0,713.7 323.3,725.4 312.6,714.5" fill="#242018" stroke="#242018" stroke-width="0.6"/>
<polygon points="301.0,713.7 311.7,724.8 323.3,725.4" fill="#242018" stroke="#242018" stroke-width="0.6"/>
<polygon points="311.7,724.8 334.0,724.4 323.3,725.4" fill="#574e3a" stroke="#574e3a" stroke-width="0.6"/>
<polygon points="311.7,724.8 322.4,726.9 334.0,724.4" fill="#5b523d" stroke="#5b523d" stroke-width="0.6"/>
<polygon points="333.1,734.1 344.7,730.3 334.0,724.4" fill="#4d4534" stroke="#4d4534" stroke-width="0.6"/>
<polygon points="322.4,726.9 333.1,734.1 334.0,724.4" fill="#413a2b" stroke="#413a2b" stroke-width="0.6"/>
<polygon points="75.7,719.4 87.3,709.4 76.6,707.1" fill="#605640" stroke="#605640" stroke-width="0.6"/>
<polygon points="65.0,718.6 75.7,719.4 76.6,707.1" fill="#71664c" stroke="#71664c" stroke-width="0.6"/>
<polygon points="75.7,719.4 98.0,714.1 87.3,709.4" fill="#474030" stroke="#474030" stroke-width="0.6"/>
<polygon points="75.7,719.4 86.4,717.3 98.0,714.1" fill="#7b6f53" stroke="#7b6f53" stroke-width="0.6"/>
<polygon points="86.4,717.3 108.7,711.3 98.0,714.1" fill="#807356" stroke="#807356" stroke-width="0.6"/>
<polygon points="86.4,717.3 97.1,718.7 108.7,711.3" fill="#655b44" stroke="#655b44" stroke-width="0.6"/>
<polygon points="97.1,718.7 119.3,711.3 108.7,711.3" fill="#73674d" stroke="#73674d" stroke-width="0.6"/>
<polygon points="97.1,718.7 107.8,718.2 119.3,711.3" fill="#766a4f" stroke="#766a4f" stroke-width="0.6"/>
<polygon points="118.4,722.0 130.0,709.4 119.3,711.3" fill="#897b5c" stroke="#897b5c" stroke-width="0.6"/>
<polygon points="107.8,718.2 118.4,722.0 119.3,711.3" fill="#4a4332" stroke="#4a4332" stroke-width="0.6"/>
<polygon points="118.4,722.0 140.7,717.1 130.0,709.4" fill="#2e291f" stroke="#2e291f" stroke-width="0.6"/>
<polygon points="118.4,722.0 129.1,719.2 140.7,717.1" fill="#7c7053" stroke="#7c7053" stroke-width="0.6"/>
<polygon points="129.1,719.2 151.4,709.9 140.7,717.1" fill="#928362" stroke="#928362" stroke-width="0.6"/>
<polygon points="129.1,719.2 139.8,722.2 151.4,709.9" fill="#5d533e" stroke="#5d533e" stroke-width="0.6"/>
<polygon points="150.5,725.5 162.1,718.2 151.4,709.9" fill="#1e1b14" stroke="#1e1b14" stroke-width="0.6"/>
<polygon points="139.8,722.2 150.5,725.5 151.4,709.9" fill="#59503c" stroke="#59503c" stroke-width="0.6"/>
<polygon points="150.5,725.5 172.8,721.1 162.1,718.2" fill="#544b38" stroke="#544b38" stroke-width="0.6"/>
<polygon points="150.5,725.5 161.2,727.0 172.8,721.1" fill="#605741" stroke="#605741" stroke-width="0.6"/>
<polygon points="171.9,730.2 183.5,725.9 172.8,721.1" fill="#393326" stroke="#393326" stroke-width="0.6"/>
<polygon points="161.2,727.0 171.9,730.2 172.8,721.1" fill="#4d4634" stroke="#4d4634" stroke-width="0.6"/>
<polygon points="278.8,732.1 290.3,724.6 279.6,733.9" fill="#73674d" stroke="#73674d" stroke-width="0.6"/>
<polygon points="268.1,738.2 278.8,732.1 279.6,733.9" fill="#6f634a" stroke="#6f634a" stroke-width="0.6"/>
<polygon points="289.4,731.6 301.0,713.7 290.3,724.6" fill="#817456" stroke="#817456" stroke-width="0.6"/>
<polygon points="278.8,732.1 289.4,731.6 290.3,724.6" fill="#796d51" stroke="#796d51" stroke-width="0.6"/>
<polygon points="300.1,732.4 311.7,724.8 301.0,713.7" fill="#3d3729" stroke="#3d3729" stroke-width="0.6"/>
<polygon points="289.4,731.6 300.1,732.4 301.0,713.7" fill="#87795a" stroke="#87795a" stroke-width="0.6"/>
<polygon points="300.1,732.4 322.4,726.9 311.7,724.8" fill="#70654b" stroke="#70654b" stroke-width="0.6"/>
<polygon points="300.1,732.4 310.8,734.6 322.4,726.9" fill="#70654b" stroke="#70654b" stroke-width="0.6"/>
<polygon points="310.8,734.6 333.1,734.1 322.4,726.9" fill="#534b38" stroke="#534b38" stroke-width="0.6"/>
<polygon points="310.8,734.6 321.5,738.3 333.1,734.1" fill="#5b523d" stroke="#5b523d" stroke-width="0.6"/>
<polygon points="65.0,718.6 75.7,719.4 86.4,717.3 97.1,718.7 107.8,718.2 118.4,722.0 129.1,719.2 139.8,722.2 150.5,725.5 161.2,727.0 171.9,730.2 182.6,731.1 193.2,732.0 203.9,732.9 214.6,733.8 225.3,734.7 236.0,735.6 246.7,736.5 257.4,737.3 268.1,738.2 278.8,732.1 289.4,731.6 300.1,732.4 310.8,734.6 321.5,738.3 321.5,777.3 65.0,752.0" fill="#6e6349"/>
<polygon points="321.5,738.3 333.1,734.1 344.7,730.3 356.3,727.4 367.9,724.1 379.4,720.0 391.0,716.7 402.6,714.3 414.2,711.0 414.2,744.8 321.5,777.3" fill="#3e362a"/>
<polygon points="276.9,739.0 276.7,740.8 276.2,742.7 275.3,744.5 274.1,746.2 272.6,747.8 270.8,749.4 268.7,750.8 266.2,752.2 263.5,753.5 260.6,754.6 257.4,755.6 253.9,756.5 250.3,757.2 246.5,757.8 242.5,758.3 238.4,758.6 234.2,758.8 229.9,758.8 225.6,758.6 221.2,758.3 216.8,757.9 212.5,757.3 208.2,756.6 204.0,755.7 199.9,754.7 195.9,753.6 192.1,752.4 188.5,751.0 185.1,749.6 181.9,748.0 178.9,746.4 176.2,744.7 173.8,742.9 171.6,741.1 169.8,739.2 168.3,737.3 167.1,735.4 166.2,733.5 165.7,731.6 165.5,729.7" fill="#0a0ac6" stroke="#0a0ac6" stroke-width="1.2"/>
<polygon points="165.5,729.2 276.9,738.5 275.9,742.2 167.5,731.9" fill="#00009a" stroke="#00009a" stroke-width="1"/>
<g stroke="#8d8783" stroke-width="0.9" fill="none">
<line x1="64.5" y1="591.8" x2="320.7" y2="610.3" />
<line x1="320.7" y1="610.3" x2="414.2" y2="586.0" />
<line x1="320.7" y1="610.3" x2="321.5" y2="777.3" />
</g>
<line x1="246.6" y1="614.7" x2="246.6" y2="676.8" stroke="#5895d2" stroke-width="1.70"/>
<polygon points="246.6,682.0 243.6,675.5 249.6,675.5" fill="#5895d2"/>
<line x1="276.6" y1="617.0" x2="276.6" y2="680.1" stroke="#5895d2" stroke-width="1.70"/>
<polygon points="276.6,685.3 273.6,678.8 279.6,678.8" fill="#5895d2"/>
<line x1="307.5" y1="619.6" x2="307.5" y2="681.8" stroke="#5895d2" stroke-width="1.70"/>
<polygon points="307.5,687.0 304.5,680.5 310.5,680.5" fill="#5895d2"/>
<line x1="238.0" y1="708.0" x2="238.0" y2="669.7" stroke="#cc1420" stroke-width="2.00"/>
<polygon points="238.0,664.5 241.0,671.0 235.0,671.0" fill="#cc1420"/>
<line x1="270.0" y1="711.0" x2="270.0" y2="672.2" stroke="#cc1420" stroke-width="2.00"/>
<polygon points="270.0,667.0 273.0,673.5 267.0,673.5" fill="#cc1420"/>
<line x1="300.0" y1="712.8" x2="300.0" y2="673.9" stroke="#cc1420" stroke-width="2.00"/>
<polygon points="300.0,668.7 303.0,675.2 297.0,675.2" fill="#cc1420"/>
<line x1="181.0" y1="724.9" x2="277.3" y2="732.4" stroke="#fff" stroke-width="1.50"/>
<polygon points="282.5,732.8 275.8,735.3 276.3,729.3" fill="#fff"/>
<polygon points="175.8,724.5 182.0,728.0 182.5,722.0" fill="#fff"/>
<text x="214" y="741" font-family="Liberation Serif, serif" font-style="italic" font-size="18" fill="#fff">c</text>
<text x="222" y="745.5" font-family="Liberation Serif, serif" font-style="italic" font-size="13.5" fill="#fff">w</text>
<text x="193.4" y="551" font-family="Liberation Sans, sans-serif" font-weight="bold" font-size="18.2" fill="#111" textLength="90" lengthAdjust="spacingAndGlyphs">Flat (canal)</text>
<text x="83" y="622" font-family="Liberation Sans, sans-serif" font-size="14.2" fill="#666" textLength="18.5" lengthAdjust="spacingAndGlyphs">Ice</text>
<text x="132" y="655.5" font-family="Liberation Sans, sans-serif" font-size="15.3" fill="#cc1420" textLength="105.5" lengthAdjust="spacingAndGlyphs">Reflected energy</text>
<text x="223.8" y="609" font-family="Liberation Sans, sans-serif" font-size="15.3" fill="#5895d2" textLength="97.7" lengthAdjust="spacingAndGlyphs">Incident energy</text>
<text x="77.7" y="744.5" font-family="Liberation Sans, sans-serif" font-size="15.3" fill="#e3dfd6" textLength="59" lengthAdjust="spacingAndGlyphs">Sediment</text>
<text x="0.6" y="518.6" font-family="Liberation Serif, serif" font-weight="bold" font-size="22" fill="#1a1a1a" textLength="27.3" lengthAdjust="spacingAndGlyphs">(b)</text>
<polygon points="473.5,579.8 567.5,559.0 813.3,575.4 813.3,744.7 730.3,776.6 473.5,754.5" fill="#bababa"/>
<line x1="567.5" y1="559.0" x2="567.5" y2="700.0" stroke="#a39e9a" stroke-width="0.9"/>
<polygon points="548.2,691.1 565.1,684.6 556.5,687.9" fill="#8a7c5d" stroke="#8a7c5d" stroke-width="0.6"/>
<polygon points="548.2,691.1 556.8,692.2 565.1,684.6" fill="#675c45" stroke="#675c45" stroke-width="0.6"/>
<polygon points="565.3,691.9 573.6,685.9 565.1,684.6" fill="#605640" stroke="#605640" stroke-width="0.6"/>
<polygon points="556.8,692.2 565.3,691.9 565.1,684.6" fill="#796c51" stroke="#796c51" stroke-width="0.6"/>
<polygon points="565.3,691.9 582.2,688.5 573.6,685.9" fill="#504836" stroke="#504836" stroke-width="0.6"/>
<polygon points="565.3,691.9 573.9,690.7 582.2,688.5" fill="#74684e" stroke="#74684e" stroke-width="0.6"/>
<polygon points="582.4,690.5 590.7,689.6 582.2,688.5" fill="#514937" stroke="#514937" stroke-width="0.6"/>
<polygon points="573.9,690.7 582.4,690.5 582.2,688.5" fill="#695e47" stroke="#695e47" stroke-width="0.6"/>
<polygon points="582.4,690.5 599.3,690.2 590.7,689.6" fill="#59503c" stroke="#59503c" stroke-width="0.6"/>
<polygon points="582.4,690.5 591.0,695.4 599.3,690.2" fill="#2e291f" stroke="#2e291f" stroke-width="0.6"/>
<polygon points="591.0,695.4 607.9,688.5 599.3,690.2" fill="#837558" stroke="#837558" stroke-width="0.6"/>
<polygon points="591.0,695.4 599.6,691.9 607.9,688.5" fill="#8c7e5e" stroke="#8c7e5e" stroke-width="0.6"/>
<polygon points="608.1,695.1 616.4,689.3 607.9,688.5" fill="#675d45" stroke="#675d45" stroke-width="0.6"/>
<polygon points="599.6,691.9 608.1,695.1 607.9,688.5" fill="#3f392a" stroke="#3f392a" stroke-width="0.6"/>
<polygon points="608.1,695.1 625.0,691.6 616.4,689.3" fill="#524a37" stroke="#524a37" stroke-width="0.6"/>
<polygon points="608.1,695.1 616.7,693.1 625.0,691.6" fill="#796d51" stroke="#796d51" stroke-width="0.6"/>
<polygon points="625.2,695.0 633.5,692.5 625.0,691.6" fill="#5b523d" stroke="#5b523d" stroke-width="0.6"/>
<polygon points="616.7,693.1 625.2,695.0 625.0,691.6" fill="#4a4332" stroke="#4a4332" stroke-width="0.6"/>
<polygon points="625.2,695.0 642.1,693.5 633.5,692.5" fill="#5b523d" stroke="#5b523d" stroke-width="0.6"/>
<polygon points="625.2,695.0 633.8,695.4 642.1,693.5" fill="#605640" stroke="#605640" stroke-width="0.6"/>
<polygon points="633.8,695.4 650.7,694.4 642.1,693.5" fill="#59503c" stroke="#59503c" stroke-width="0.6"/>
<polygon points="633.8,695.4 642.4,700.3 650.7,694.4" fill="#302b20" stroke="#302b20" stroke-width="0.6"/>
<polygon points="642.4,700.3 659.2,701.3 650.7,694.4" fill="#1c1913" stroke="#1c1913" stroke-width="0.6"/>
<polygon points="642.4,700.3 650.9,704.5 659.2,701.3" fill="#312c21" stroke="#312c21" stroke-width="0.6"/>
<polygon points="650.9,704.5 667.8,701.9 659.2,701.3" fill="#635942" stroke="#635942" stroke-width="0.6"/>
<polygon points="650.9,704.5 659.5,705.1 667.8,701.9" fill="#635942" stroke="#635942" stroke-width="0.6"/>
<polygon points="668.0,705.6 676.3,702.4 667.8,701.9" fill="#635942" stroke="#635942" stroke-width="0.6"/>
<polygon points="659.5,705.1 668.0,705.6 667.8,701.9" fill="#635942" stroke="#635942" stroke-width="0.6"/>
<polygon points="668.0,705.6 684.9,702.9 676.3,702.4" fill="#635942" stroke="#635942" stroke-width="0.6"/>
<polygon points="668.0,705.6 676.6,706.1 684.9,702.9" fill="#635942" stroke="#635942" stroke-width="0.6"/>
<polygon points="676.6,706.1 693.5,703.4 684.9,702.9" fill="#635942" stroke="#635942" stroke-width="0.6"/>
<polygon points="676.6,706.1 685.2,706.6 693.5,703.4" fill="#635942" stroke="#635942" stroke-width="0.6"/>
<polygon points="685.2,706.6 702.0,703.9 693.5,703.4" fill="#635942" stroke="#635942" stroke-width="0.6"/>
<polygon points="685.2,706.6 693.7,707.1 702.0,703.9" fill="#635942" stroke="#635942" stroke-width="0.6"/>
<polygon points="693.7,707.1 710.6,704.5 702.0,703.9" fill="#635942" stroke="#635942" stroke-width="0.6"/>
<polygon points="693.7,707.1 702.3,707.6 710.6,704.5" fill="#635942" stroke="#635942" stroke-width="0.6"/>
<polygon points="702.3,707.6 719.1,705.0 710.6,704.5" fill="#635942" stroke="#635942" stroke-width="0.6"/>
<polygon points="702.3,707.6 710.8,708.2 719.1,705.0" fill="#635942" stroke="#635942" stroke-width="0.6"/>
<polygon points="719.4,708.7 727.7,705.5 719.1,705.0" fill="#635942" stroke="#635942" stroke-width="0.6"/>
<polygon points="710.8,708.2 719.4,708.7 719.1,705.0" fill="#635942" stroke="#635942" stroke-width="0.6"/>
<polygon points="719.4,708.7 736.3,706.0 727.7,705.5" fill="#635942" stroke="#635942" stroke-width="0.6"/>
<polygon points="719.4,708.7 728.0,709.2 736.3,706.0" fill="#635942" stroke="#635942" stroke-width="0.6"/>
<polygon points="728.0,709.2 744.8,706.5 736.3,706.0" fill="#635942" stroke="#635942" stroke-width="0.6"/>
<polygon points="728.0,709.2 736.5,709.7 744.8,706.5" fill="#635942" stroke="#635942" stroke-width="0.6"/>
<polygon points="736.5,709.7 753.4,707.1 744.8,706.5" fill="#635942" stroke="#635942" stroke-width="0.6"/>
<polygon points="736.5,709.7 745.1,710.2 753.4,707.1" fill="#635942" stroke="#635942" stroke-width="0.6"/>
<polygon points="753.6,702.7 761.9,695.7 753.4,707.1" fill="#a5946f" stroke="#a5946f" stroke-width="0.6"/>
<polygon points="745.1,710.2 753.6,702.7 753.4,707.1" fill="#9b8c68" stroke="#9b8c68" stroke-width="0.6"/>
<polygon points="539.9,694.3 556.8,692.2 548.2,691.1" fill="#5b523d" stroke="#5b523d" stroke-width="0.6"/>
<polygon points="539.9,694.3 548.5,691.7 556.8,692.2" fill="#766a4f" stroke="#766a4f" stroke-width="0.6"/>
<polygon points="557.0,698.0 565.3,691.9 556.8,692.2" fill="#766a4f" stroke="#766a4f" stroke-width="0.6"/>
<polygon points="548.5,691.7 557.0,698.0 556.8,692.2" fill="#1c1913" stroke="#1c1913" stroke-width="0.6"/>
<polygon points="557.0,698.0 573.9,690.7 565.3,691.9" fill="#7f7255" stroke="#7f7255" stroke-width="0.6"/>
<polygon points="557.0,698.0 565.6,695.5 573.9,690.7" fill="#897b5c" stroke="#897b5c" stroke-width="0.6"/>
<polygon points="574.1,693.2 582.4,690.5 573.9,690.7" fill="#6b6048" stroke="#6b6048" stroke-width="0.6"/>
<polygon points="565.6,695.5 574.1,693.2 573.9,690.7" fill="#86785a" stroke="#86785a" stroke-width="0.6"/>
<polygon points="574.1,693.2 591.0,695.4 582.4,690.5" fill="#27231a" stroke="#27231a" stroke-width="0.6"/>
<polygon points="574.1,693.2 582.7,695.5 591.0,695.4" fill="#413a2b" stroke="#413a2b" stroke-width="0.6"/>
<polygon points="591.3,697.8 599.6,691.9 591.0,695.4" fill="#928462" stroke="#928462" stroke-width="0.6"/>
<polygon points="582.7,695.5 591.3,697.8 591.0,695.4" fill="#40392b" stroke="#40392b" stroke-width="0.6"/>
<polygon points="591.3,697.8 608.1,695.1 599.6,691.9" fill="#47402f" stroke="#47402f" stroke-width="0.6"/>
<polygon points="591.3,697.8 599.8,692.4 608.1,695.1" fill="#807356" stroke="#807356" stroke-width="0.6"/>
<polygon points="608.4,701.9 616.7,693.1 608.1,695.1" fill="#8b7c5d" stroke="#8b7c5d" stroke-width="0.6"/>
<polygon points="599.8,692.4 608.4,701.9 608.1,695.1" fill="#1c1913" stroke="#1c1913" stroke-width="0.6"/>
<polygon points="616.9,697.5 625.2,695.0 616.7,693.1" fill="#4e4634" stroke="#4e4634" stroke-width="0.6"/>
<polygon points="608.4,701.9 616.9,697.5 616.7,693.1" fill="#9b8b68" stroke="#9b8b68" stroke-width="0.6"/>
<polygon points="625.5,699.8 633.8,695.4 625.2,695.0" fill="#695e46" stroke="#695e46" stroke-width="0.6"/>
<polygon points="616.9,697.5 625.5,699.8 625.2,695.0" fill="#484130" stroke="#484130" stroke-width="0.6"/>
<polygon points="625.5,699.8 642.4,700.3 633.8,695.4" fill="#2c281e" stroke="#2c281e" stroke-width="0.6"/>
<polygon points="625.5,699.8 634.1,704.3 642.4,700.3" fill="#302b20" stroke="#302b20" stroke-width="0.6"/>
<polygon points="634.1,704.3 650.9,704.5 642.4,700.3" fill="#342e23" stroke="#342e23" stroke-width="0.6"/>
<polygon points="634.1,704.3 642.6,707.7 650.9,704.5" fill="#3c3628" stroke="#3c3628" stroke-width="0.6"/>
<polygon points="651.2,708.2 659.5,705.1 650.9,704.5" fill="#635942" stroke="#635942" stroke-width="0.6"/>
<polygon points="642.6,707.7 651.2,708.2 650.9,704.5" fill="#635942" stroke="#635942" stroke-width="0.6"/>
<polygon points="651.2,708.2 668.0,705.6 659.5,705.1" fill="#635942" stroke="#635942" stroke-width="0.6"/>
<polygon points="651.2,708.2 659.7,708.8 668.0,705.6" fill="#635942" stroke="#635942" stroke-width="0.6"/>
<polygon points="659.7,708.8 676.6,706.1 668.0,705.6" fill="#635942" stroke="#635942" stroke-width="0.6"/>
<polygon points="659.7,708.8 668.3,709.3 676.6,706.1" fill="#635942" stroke="#635942" stroke-width="0.6"/>
<polygon points="676.9,709.8 685.2,706.6 676.6,706.1" fill="#635942" stroke="#635942" stroke-width="0.6"/>
<polygon points="668.3,709.3 676.9,709.8 676.6,706.1" fill="#635942" stroke="#635942" stroke-width="0.6"/>
<polygon points="685.4,710.3 693.7,707.1 685.2,706.6" fill="#635942" stroke="#635942" stroke-width="0.6"/>
<polygon points="676.9,709.8 685.4,710.3 685.2,706.6" fill="#635942" stroke="#635942" stroke-width="0.6"/>
<polygon points="694.0,710.8 702.3,707.6 693.7,707.1" fill="#635942" stroke="#635942" stroke-width="0.6"/>
<polygon points="685.4,710.3 694.0,710.8 693.7,707.1" fill="#635942" stroke="#635942" stroke-width="0.6"/>
<polygon points="702.5,711.4 710.8,708.2 702.3,707.6" fill="#635942" stroke="#635942" stroke-width="0.6"/>
<polygon points="694.0,710.8 702.5,711.4 702.3,707.6" fill="#635942" stroke="#635942" stroke-width="0.6"/>
<polygon points="702.5,711.4 719.4,708.7 710.8,708.2" fill="#635942" stroke="#635942" stroke-width="0.6"/>
<polygon points="702.5,711.4 711.1,711.9 719.4,708.7" fill="#635942" stroke="#635942" stroke-width="0.6"/>
<polygon points="711.1,711.9 728.0,709.2 719.4,708.7" fill="#635942" stroke="#635942" stroke-width="0.6"/>
<polygon points="711.1,711.9 719.7,712.4 728.0,709.2" fill="#635942" stroke="#635942" stroke-width="0.6"/>
<polygon points="728.2,712.9 736.5,709.7 728.0,709.2" fill="#635942" stroke="#635942" stroke-width="0.6"/>
<polygon points="719.7,712.4 728.2,712.9 728.0,709.2" fill="#635942" stroke="#635942" stroke-width="0.6"/>
<polygon points="728.2,712.9 745.1,710.2 736.5,709.7" fill="#635942" stroke="#635942" stroke-width="0.6"/>
<polygon points="728.2,712.9 736.8,713.4 745.1,710.2" fill="#635942" stroke="#635942" stroke-width="0.6"/>
<polygon points="745.3,704.4 753.6,702.7 745.1,710.2" fill="#978866" stroke="#978866" stroke-width="0.6"/>
<polygon points="736.8,713.4 745.3,704.4 745.1,710.2" fill="#9e8e6a" stroke="#9e8e6a" stroke-width="0.6"/>
<polygon points="531.6,697.2 548.5,691.7 539.9,694.3" fill="#837658" stroke="#837658" stroke-width="0.6"/>
<polygon points="531.6,697.2 540.2,701.0 548.5,691.7" fill="#47402f" stroke="#47402f" stroke-width="0.6"/>
<polygon points="548.7,692.5 557.0,698.0 548.5,691.7" fill="#1c1913" stroke="#1c1913" stroke-width="0.6"/>
<polygon points="540.2,701.0 548.7,692.5 548.5,691.7" fill="#a6956f" stroke="#a6956f" stroke-width="0.6"/>
<polygon points="557.3,698.7 565.6,695.5 557.0,698.0" fill="#847759" stroke="#847759" stroke-width="0.6"/>
<polygon points="548.7,692.5 557.3,698.7 557.0,698.0" fill="#1c1913" stroke="#1c1913" stroke-width="0.6"/>
<polygon points="565.8,699.6 574.1,693.2 565.6,695.5" fill="#897b5c" stroke="#897b5c" stroke-width="0.6"/>
<polygon points="557.3,698.7 565.8,699.6 565.6,695.5" fill="#5e543f" stroke="#5e543f" stroke-width="0.6"/>
<polygon points="574.4,699.4 582.7,695.5 574.1,693.2" fill="#4e4634" stroke="#4e4634" stroke-width="0.6"/>
<polygon points="565.8,699.6 574.4,699.4 574.1,693.2" fill="#74684e" stroke="#74684e" stroke-width="0.6"/>
<polygon points="583.0,701.5 591.3,697.8 582.7,695.5" fill="#4d4534" stroke="#4d4534" stroke-width="0.6"/>
<polygon points="574.4,699.4 583.0,701.5 582.7,695.5" fill="#504836" stroke="#504836" stroke-width="0.6"/>
<polygon points="583.0,701.5 599.8,692.4 591.3,697.8" fill="#968765" stroke="#968765" stroke-width="0.6"/>
<polygon points="583.0,701.5 591.5,703.1 599.8,692.4" fill="#655a44" stroke="#655a44" stroke-width="0.6"/>
<polygon points="591.5,703.1 608.4,701.9 599.8,692.4" fill="#1c1913" stroke="#1c1913" stroke-width="0.6"/>
<polygon points="591.5,703.1 600.1,705.3 608.4,701.9" fill="#4e4634" stroke="#4e4634" stroke-width="0.6"/>
<polygon points="608.6,703.5 616.9,697.5 608.4,701.9" fill="#978866" stroke="#978866" stroke-width="0.6"/>
<polygon points="600.1,705.3 608.6,703.5 608.4,701.9" fill="#7e7154" stroke="#7e7154" stroke-width="0.6"/>
<polygon points="617.2,699.3 625.5,699.8 616.9,697.5" fill="#3d3729" stroke="#3d3729" stroke-width="0.6"/>
<polygon points="608.6,703.5 617.2,699.3 616.9,697.5" fill="#978765" stroke="#978765" stroke-width="0.6"/>
<polygon points="617.2,699.3 634.1,704.3 625.5,699.8" fill="#221e17" stroke="#221e17" stroke-width="0.6"/>
<polygon points="617.2,699.3 625.8,706.6 634.1,704.3" fill="#1c1913" stroke="#1c1913" stroke-width="0.6"/>
<polygon points="634.3,710.9 642.6,707.7 634.1,704.3" fill="#3c3628" stroke="#3c3628" stroke-width="0.6"/>
<polygon points="625.8,706.6 634.3,710.9 634.1,704.3" fill="#2c281e" stroke="#2c281e" stroke-width="0.6"/>
<polygon points="642.9,711.4 651.2,708.2 642.6,707.7" fill="#635942" stroke="#635942" stroke-width="0.6"/>
<polygon points="634.3,710.9 642.9,711.4 642.6,707.7" fill="#635942" stroke="#635942" stroke-width="0.6"/>
<polygon points="651.4,712.0 659.7,708.8 651.2,708.2" fill="#635942" stroke="#635942" stroke-width="0.6"/>
<polygon points="642.9,711.4 651.4,712.0 651.2,708.2" fill="#635942" stroke="#635942" stroke-width="0.6"/>
<polygon points="651.4,712.0 668.3,709.3 659.7,708.8" fill="#635942" stroke="#635942" stroke-width="0.6"/>
<polygon points="651.4,712.0 660.0,712.5 668.3,709.3" fill="#635942" stroke="#635942" stroke-width="0.6"/>
<polygon points="660.0,712.5 676.9,709.8 668.3,709.3" fill="#635942" stroke="#635942" stroke-width="0.6"/>
<polygon points="660.0,712.5 668.6,713.0 676.9,709.8" fill="#635942" stroke="#635942" stroke-width="0.6"/>
<polygon points="668.6,713.0 685.4,710.3 676.9,709.8" fill="#635942" stroke="#635942" stroke-width="0.6"/>
<polygon points="668.6,713.0 677.1,713.5 685.4,710.3" fill="#635942" stroke="#635942" stroke-width="0.6"/>
<polygon points="677.1,713.5 694.0,710.8 685.4,710.3" fill="#635942" stroke="#635942" stroke-width="0.6"/>
<polygon points="677.1,713.5 685.7,714.0 694.0,710.8" fill="#635942" stroke="#635942" stroke-width="0.6"/>
<polygon points="685.7,714.0 702.5,711.4 694.0,710.8" fill="#635942" stroke="#635942" stroke-width="0.6"/>
<polygon points="685.7,714.0 694.2,714.6 702.5,711.4" fill="#635942" stroke="#635942" stroke-width="0.6"/>
<polygon points="694.2,714.6 711.1,711.9 702.5,711.4" fill="#635942" stroke="#635942" stroke-width="0.6"/>
<polygon points="694.2,714.6 702.8,715.1 711.1,711.9" fill="#635942" stroke="#635942" stroke-width="0.6"/>
<polygon points="702.8,715.1 719.7,712.4 711.1,711.9" fill="#635942" stroke="#635942" stroke-width="0.6"/>
<polygon points="702.8,715.1 711.4,715.6 719.7,712.4" fill="#635942" stroke="#635942" stroke-width="0.6"/>
<polygon points="719.9,716.1 728.2,712.9 719.7,712.4" fill="#635942" stroke="#635942" stroke-width="0.6"/>
<polygon points="711.4,715.6 719.9,716.1 719.7,712.4" fill="#635942" stroke="#635942" stroke-width="0.6"/>
<polygon points="728.5,716.6 736.8,713.4 728.2,712.9" fill="#635942" stroke="#635942" stroke-width="0.6"/>
<polygon points="719.9,716.1 728.5,716.6 728.2,712.9" fill="#635942" stroke="#635942" stroke-width="0.6"/>
<polygon points="728.5,716.6 745.3,704.4 736.8,713.4" fill="#9e8e6a" stroke="#9e8e6a" stroke-width="0.6"/>
<polygon points="728.5,716.6 737.0,710.6 745.3,704.4" fill="#9e8e6a" stroke="#9e8e6a" stroke-width="0.6"/>
<polygon points="523.3,700.1 540.2,701.0 531.6,697.2" fill="#363024" stroke="#363024" stroke-width="0.6"/>
<polygon points="523.3,700.1 531.9,696.2 540.2,701.0" fill="#6d6249" stroke="#6d6249" stroke-width="0.6"/>
<polygon points="531.9,696.2 548.7,692.5 540.2,701.0" fill="#847658" stroke="#847658" stroke-width="0.6"/>
<polygon points="531.9,696.2 540.4,695.0 548.7,692.5" fill="#75694f" stroke="#75694f" stroke-width="0.6"/>
<polygon points="549.0,697.3 557.3,698.7 548.7,692.5" fill="#1c1913" stroke="#1c1913" stroke-width="0.6"/>
<polygon points="540.4,695.0 549.0,697.3 548.7,692.5" fill="#484130" stroke="#484130" stroke-width="0.6"/>
<polygon points="557.5,702.7 565.8,699.6 557.3,698.7" fill="#5e543f" stroke="#5e543f" stroke-width="0.6"/>
<polygon points="549.0,697.3 557.5,702.7 557.3,698.7" fill="#1c1913" stroke="#1c1913" stroke-width="0.6"/>
<polygon points="557.5,702.7 574.4,699.4 565.8,699.6" fill="#6b6048" stroke="#6b6048" stroke-width="0.6"/>
<polygon points="557.5,702.7 566.1,698.3 574.4,699.4" fill="#817456" stroke="#817456" stroke-width="0.6"/>
<polygon points="574.7,707.1 583.0,701.5 574.4,699.4" fill="#554c39" stroke="#554c39" stroke-width="0.6"/>
<polygon points="566.1,698.3 574.7,707.1 574.4,699.4" fill="#1c1913" stroke="#1c1913" stroke-width="0.6"/>
<polygon points="574.7,707.1 591.5,703.1 583.0,701.5" fill="#5b523d" stroke="#5b523d" stroke-width="0.6"/>
<polygon points="574.7,707.1 583.2,697.9 591.5,703.1" fill="#847759" stroke="#847759" stroke-width="0.6"/>
<polygon points="583.2,697.9 600.1,705.3 591.5,703.1" fill="#2e291f" stroke="#2e291f" stroke-width="0.6"/>
<polygon points="583.2,697.9 591.8,705.9 600.1,705.3" fill="#1c1913" stroke="#1c1913" stroke-width="0.6"/>
<polygon points="600.3,702.3 608.6,703.5 600.1,705.3" fill="#6b6048" stroke="#6b6048" stroke-width="0.6"/>
<polygon points="591.8,705.9 600.3,702.3 600.1,705.3" fill="#847658" stroke="#847658" stroke-width="0.6"/>
<polygon points="600.3,702.3 617.2,699.3 608.6,703.5" fill="#7f7255" stroke="#7f7255" stroke-width="0.6"/>
<polygon points="600.3,702.3 608.9,707.9 617.2,699.3" fill="#2f2a20" stroke="#2f2a20" stroke-width="0.6"/>
<polygon points="608.9,707.9 625.8,706.6 617.2,699.3" fill="#1e1b14" stroke="#1e1b14" stroke-width="0.6"/>
<polygon points="608.9,707.9 617.5,707.2 625.8,706.6" fill="#685d46" stroke="#685d46" stroke-width="0.6"/>
<polygon points="617.5,707.2 634.3,710.9 625.8,706.6" fill="#28241b" stroke="#28241b" stroke-width="0.6"/>
<polygon points="617.5,707.2 626.0,714.1 634.3,710.9" fill="#1c1913" stroke="#1c1913" stroke-width="0.6"/>
<polygon points="626.0,714.1 642.9,711.4 634.3,710.9" fill="#635942" stroke="#635942" stroke-width="0.6"/>
<polygon points="626.0,714.1 634.6,714.6 642.9,711.4" fill="#635942" stroke="#635942" stroke-width="0.6"/>
<polygon points="634.6,714.6 651.4,712.0 642.9,711.4" fill="#635942" stroke="#635942" stroke-width="0.6"/>
<polygon points="634.6,714.6 643.1,715.1 651.4,712.0" fill="#635942" stroke="#635942" stroke-width="0.6"/>
<polygon points="643.1,715.1 660.0,712.5 651.4,712.0" fill="#635942" stroke="#635942" stroke-width="0.6"/>
<polygon points="643.1,715.1 651.7,715.7 660.0,712.5" fill="#635942" stroke="#635942" stroke-width="0.6"/>
<polygon points="651.7,715.7 668.6,713.0 660.0,712.5" fill="#635942" stroke="#635942" stroke-width="0.6"/>
<polygon points="651.7,715.7 660.3,716.2 668.6,713.0" fill="#635942" stroke="#635942" stroke-width="0.6"/>
<polygon points="668.8,716.7 677.1,713.5 668.6,713.0" fill="#635942" stroke="#635942" stroke-width="0.6"/>
<polygon points="660.3,716.2 668.8,716.7 668.6,713.0" fill="#635942" stroke="#635942" stroke-width="0.6"/>
<polygon points="668.8,716.7 685.7,714.0 677.1,713.5" fill="#635942" stroke="#635942" stroke-width="0.6"/>
<polygon points="668.8,716.7 677.4,717.2 685.7,714.0" fill="#635942" stroke="#635942" stroke-width="0.6"/>
<polygon points="677.4,717.2 694.2,714.6 685.7,714.0" fill="#635942" stroke="#635942" stroke-width="0.6"/>
<polygon points="677.4,717.2 685.9,717.7 694.2,714.6" fill="#635942" stroke="#635942" stroke-width="0.6"/>
<polygon points="685.9,717.7 702.8,715.1 694.2,714.6" fill="#635942" stroke="#635942" stroke-width="0.6"/>
<polygon points="685.9,717.7 694.5,718.3 702.8,715.1" fill="#635942" stroke="#635942" stroke-width="0.6"/>
<polygon points="694.5,718.3 711.4,715.6 702.8,715.1" fill="#635942" stroke="#635942" stroke-width="0.6"/>
<polygon points="694.5,718.3 703.1,718.8 711.4,715.6" fill="#635942" stroke="#635942" stroke-width="0.6"/>
<polygon points="711.6,719.3 719.9,716.1 711.4,715.6" fill="#635942" stroke="#635942" stroke-width="0.6"/>
<polygon points="703.1,718.8 711.6,719.3 711.4,715.6" fill="#635942" stroke="#635942" stroke-width="0.6"/>
<polygon points="711.6,719.3 728.5,716.6 719.9,716.1" fill="#635942" stroke="#635942" stroke-width="0.6"/>
<polygon points="711.6,719.3 720.2,719.8 728.5,716.6" fill="#635942" stroke="#635942" stroke-width="0.6"/>
<polygon points="728.7,714.4 737.0,710.6 728.5,716.6" fill="#998a67" stroke="#998a67" stroke-width="0.6"/>
<polygon points="720.2,719.8 728.7,714.4 728.5,716.6" fill="#958664" stroke="#958664" stroke-width="0.6"/>
<polygon points="523.6,707.3 531.9,696.2 523.3,700.1" fill="#998966" stroke="#998966" stroke-width="0.6"/>
<polygon points="515.0,702.9 523.6,707.3 523.3,700.1" fill="#2d291e" stroke="#2d291e" stroke-width="0.6"/>
<polygon points="532.1,707.5 540.4,695.0 531.9,696.2" fill="#857859" stroke="#857859" stroke-width="0.6"/>
<polygon points="523.6,707.3 532.1,707.5 531.9,696.2" fill="#776a4f" stroke="#776a4f" stroke-width="0.6"/>
<polygon points="540.7,707.2 549.0,697.3 540.4,695.0" fill="#5b523d" stroke="#5b523d" stroke-width="0.6"/>
<polygon points="532.1,707.5 540.7,707.2 540.4,695.0" fill="#7c7053" stroke="#7c7053" stroke-width="0.6"/>
<polygon points="540.7,707.2 557.5,702.7 549.0,697.3" fill="#353024" stroke="#353024" stroke-width="0.6"/>
<polygon points="540.7,707.2 549.2,702.4 557.5,702.7" fill="#87795a" stroke="#87795a" stroke-width="0.6"/>
<polygon points="549.2,702.4 566.1,698.3 557.5,702.7" fill="#847759" stroke="#847759" stroke-width="0.6"/>
<polygon points="549.2,702.4 557.8,709.7 566.1,698.3" fill="#232018" stroke="#232018" stroke-width="0.6"/>
<polygon points="557.8,709.7 574.7,707.1 566.1,698.3" fill="#1c1913" stroke="#1c1913" stroke-width="0.6"/>
<polygon points="557.8,709.7 566.4,703.1 574.7,707.1" fill="#807356" stroke="#807356" stroke-width="0.6"/>
<polygon points="566.4,703.1 583.2,697.9 574.7,707.1" fill="#887a5b" stroke="#887a5b" stroke-width="0.6"/>
<polygon points="566.4,703.1 574.9,705.9 583.2,697.9" fill="#514936" stroke="#514936" stroke-width="0.6"/>
<polygon points="583.5,707.9 591.8,705.9 583.2,697.9" fill="#1c1913" stroke="#1c1913" stroke-width="0.6"/>
<polygon points="574.9,705.9 583.5,707.9 583.2,697.9" fill="#5c523e" stroke="#5c523e" stroke-width="0.6"/>
<polygon points="592.0,703.1 600.3,702.3 591.8,705.9" fill="#847759" stroke="#847759" stroke-width="0.6"/>
<polygon points="583.5,707.9 592.0,703.1 591.8,705.9" fill="#8f8060" stroke="#8f8060" stroke-width="0.6"/>
<polygon points="592.0,703.1 608.9,707.9 600.3,702.3" fill="#1c1913" stroke="#1c1913" stroke-width="0.6"/>
<polygon points="592.0,703.1 600.6,705.8 608.9,707.9" fill="#332e22" stroke="#332e22" stroke-width="0.6"/>
<polygon points="609.2,714.3 617.5,707.2 608.9,707.9" fill="#7b6f53" stroke="#7b6f53" stroke-width="0.6"/>
<polygon points="600.6,705.8 609.2,714.3 608.9,707.9" fill="#1c1913" stroke="#1c1913" stroke-width="0.6"/>
<polygon points="609.2,714.3 626.0,714.1 617.5,707.2" fill="#1e1b14" stroke="#1e1b14" stroke-width="0.6"/>
<polygon points="609.2,714.3 617.7,717.3 626.0,714.1" fill="#413b2c" stroke="#413b2c" stroke-width="0.6"/>
<polygon points="626.3,717.8 634.6,714.6 626.0,714.1" fill="#635942" stroke="#635942" stroke-width="0.6"/>
<polygon points="617.7,717.3 626.3,717.8 626.0,714.1" fill="#635942" stroke="#635942" stroke-width="0.6"/>
<polygon points="626.3,717.8 643.1,715.1 634.6,714.6" fill="#635942" stroke="#635942" stroke-width="0.6"/>
<polygon points="626.3,717.8 634.8,718.3 643.1,715.1" fill="#635942" stroke="#635942" stroke-width="0.6"/>
<polygon points="643.4,718.8 651.7,715.7 643.1,715.1" fill="#635942" stroke="#635942" stroke-width="0.6"/>
<polygon points="634.8,718.3 643.4,718.8 643.1,715.1" fill="#635942" stroke="#635942" stroke-width="0.6"/>
<polygon points="643.4,718.8 660.3,716.2 651.7,715.7" fill="#635942" stroke="#635942" stroke-width="0.6"/>
<polygon points="643.4,718.8 652.0,719.4 660.3,716.2" fill="#635942" stroke="#635942" stroke-width="0.6"/>
<polygon points="660.5,719.9 668.8,716.7 660.3,716.2" fill="#635942" stroke="#635942" stroke-width="0.6"/>
<polygon points="652.0,719.4 660.5,719.9 660.3,716.2" fill="#635942" stroke="#635942" stroke-width="0.6"/>
<polygon points="669.1,720.4 677.4,717.2 668.8,716.7" fill="#635942" stroke="#635942" stroke-width="0.6"/>
<polygon points="660.5,719.9 669.1,720.4 668.8,716.7" fill="#635942" stroke="#635942" stroke-width="0.6"/>
<polygon points="677.6,720.9 685.9,717.7 677.4,717.2" fill="#635942" stroke="#635942" stroke-width="0.6"/>
<polygon points="669.1,720.4 677.6,720.9 677.4,717.2" fill="#635942" stroke="#635942" stroke-width="0.6"/>
<polygon points="686.2,721.4 694.5,718.3 685.9,717.7" fill="#635942" stroke="#635942" stroke-width="0.6"/>
<polygon points="677.6,720.9 686.2,721.4 685.9,717.7" fill="#635942" stroke="#635942" stroke-width="0.6"/>
<polygon points="686.2,721.4 703.1,718.8 694.5,718.3" fill="#635942" stroke="#635942" stroke-width="0.6"/>
<polygon points="686.2,721.4 694.8,722.0 703.1,718.8" fill="#635942" stroke="#635942" stroke-width="0.6"/>
<polygon points="703.3,722.5 711.6,719.3 703.1,718.8" fill="#635942" stroke="#635942" stroke-width="0.6"/>
<polygon points="694.8,722.0 703.3,722.5 703.1,718.8" fill="#635942" stroke="#635942" stroke-width="0.6"/>
<polygon points="703.3,722.5 720.2,719.8 711.6,719.3" fill="#635942" stroke="#635942" stroke-width="0.6"/>
<polygon points="703.3,722.5 711.9,723.0 720.2,719.8" fill="#635942" stroke="#635942" stroke-width="0.6"/>
<polygon points="711.9,723.0 728.7,714.4 720.2,719.8" fill="#958664" stroke="#958664" stroke-width="0.6"/>
<polygon points="711.9,723.0 720.4,717.5 728.7,714.4" fill="#968664" stroke="#968664" stroke-width="0.6"/>
<polygon points="515.3,701.1 523.6,707.3 515.0,702.9" fill="#1c1913" stroke="#1c1913" stroke-width="0.6"/>
<polygon points="506.7,705.3 515.3,701.1 515.0,702.9" fill="#8d7f5f" stroke="#8d7f5f" stroke-width="0.6"/>
<polygon points="515.3,701.1 532.1,707.5 523.6,707.3" fill="#413a2b" stroke="#413a2b" stroke-width="0.6"/>
<polygon points="515.3,701.1 523.8,706.0 532.1,707.5" fill="#1c1913" stroke="#1c1913" stroke-width="0.6"/>
<polygon points="523.8,706.0 540.7,707.2 532.1,707.5" fill="#5b523d" stroke="#5b523d" stroke-width="0.6"/>
<polygon points="523.8,706.0 532.4,711.6 540.7,707.2" fill="#242118" stroke="#242118" stroke-width="0.6"/>
<polygon points="532.4,711.6 549.2,702.4 540.7,707.2" fill="#968764" stroke="#968764" stroke-width="0.6"/>
<polygon points="532.4,711.6 540.9,701.9 549.2,702.4" fill="#958664" stroke="#958664" stroke-width="0.6"/>
<polygon points="540.9,701.9 557.8,709.7 549.2,702.4" fill="#1c1913" stroke="#1c1913" stroke-width="0.6"/>
<polygon points="540.9,701.9 549.5,707.6 557.8,709.7" fill="#1c1913" stroke="#1c1913" stroke-width="0.6"/>
<polygon points="558.1,711.7 566.4,703.1 557.8,709.7" fill="#a3926d" stroke="#a3926d" stroke-width="0.6"/>
<polygon points="549.5,707.6 558.1,711.7 557.8,709.7" fill="#221f17" stroke="#221f17" stroke-width="0.6"/>
<polygon points="558.1,711.7 574.9,705.9 566.4,703.1" fill="#524a37" stroke="#524a37" stroke-width="0.6"/>
<polygon points="558.1,711.7 566.6,703.6 574.9,705.9" fill="#8c7e5e" stroke="#8c7e5e" stroke-width="0.6"/>
<polygon points="566.6,703.6 583.5,707.9 574.9,705.9" fill="#3b3527" stroke="#3b3527" stroke-width="0.6"/>
<polygon points="566.6,703.6 575.2,706.2 583.5,707.9" fill="#353024" stroke="#353024" stroke-width="0.6"/>
<polygon points="575.2,706.2 592.0,703.1 583.5,707.9" fill="#817356" stroke="#817356" stroke-width="0.6"/>
<polygon points="575.2,706.2 583.7,706.5 592.0,703.1" fill="#665c44" stroke="#665c44" stroke-width="0.6"/>
<polygon points="592.3,713.9 600.6,705.8 592.0,703.1" fill="#544b38" stroke="#544b38" stroke-width="0.6"/>
<polygon points="583.7,706.5 592.3,713.9 592.0,703.1" fill="#1c1913" stroke="#1c1913" stroke-width="0.6"/>
<polygon points="600.9,714.4 609.2,714.3 600.6,705.8" fill="#1c1913" stroke="#1c1913" stroke-width="0.6"/>
<polygon points="592.3,713.9 600.9,714.4 600.6,705.8" fill="#70654b" stroke="#70654b" stroke-width="0.6"/>
<polygon points="600.9,714.4 617.7,717.3 609.2,714.3" fill="#373125" stroke="#373125" stroke-width="0.6"/>
<polygon points="600.9,714.4 609.4,720.5 617.7,717.3" fill="#1c1913" stroke="#1c1913" stroke-width="0.6"/>
<polygon points="609.4,720.5 626.3,717.8 617.7,717.3" fill="#635942" stroke="#635942" stroke-width="0.6"/>
<polygon points="609.4,720.5 618.0,721.0 626.3,717.8" fill="#635942" stroke="#635942" stroke-width="0.6"/>
<polygon points="618.0,721.0 634.8,718.3 626.3,717.8" fill="#635942" stroke="#635942" stroke-width="0.6"/>
<polygon points="618.0,721.0 626.5,721.5 634.8,718.3" fill="#635942" stroke="#635942" stroke-width="0.6"/>
<polygon points="626.5,721.5 643.4,718.8 634.8,718.3" fill="#635942" stroke="#635942" stroke-width="0.6"/>
<polygon points="626.5,721.5 635.1,722.0 643.4,718.8" fill="#635942" stroke="#635942" stroke-width="0.6"/>
<polygon points="635.1,722.0 652.0,719.4 643.4,718.8" fill="#635942" stroke="#635942" stroke-width="0.6"/>
<polygon points="635.1,722.0 643.7,722.6 652.0,719.4" fill="#635942" stroke="#635942" stroke-width="0.6"/>
<polygon points="643.7,722.6 660.5,719.9 652.0,719.4" fill="#635942" stroke="#635942" stroke-width="0.6"/>
<polygon points="643.7,722.6 652.2,723.1 660.5,719.9" fill="#635942" stroke="#635942" stroke-width="0.6"/>
<polygon points="652.2,723.1 669.1,720.4 660.5,719.9" fill="#635942" stroke="#635942" stroke-width="0.6"/>
<polygon points="652.2,723.1 660.8,723.6 669.1,720.4" fill="#635942" stroke="#635942" stroke-width="0.6"/>
<polygon points="669.3,724.1 677.6,720.9 669.1,720.4" fill="#635942" stroke="#635942" stroke-width="0.6"/>
<polygon points="660.8,723.6 669.3,724.1 669.1,720.4" fill="#635942" stroke="#635942" stroke-width="0.6"/>
<polygon points="677.9,724.6 686.2,721.4 677.6,720.9" fill="#635942" stroke="#635942" stroke-width="0.6"/>
<polygon points="669.3,724.1 677.9,724.6 677.6,720.9" fill="#635942" stroke="#635942" stroke-width="0.6"/>
<polygon points="686.5,725.2 694.8,722.0 686.2,721.4" fill="#635942" stroke="#635942" stroke-width="0.6"/>
<polygon points="677.9,724.6 686.5,725.2 686.2,721.4" fill="#635942" stroke="#635942" stroke-width="0.6"/>
<polygon points="686.5,725.2 703.3,722.5 694.8,722.0" fill="#635942" stroke="#635942" stroke-width="0.6"/>
<polygon points="686.5,725.2 695.0,725.7 703.3,722.5" fill="#635942" stroke="#635942" stroke-width="0.6"/>
<polygon points="695.0,725.7 711.9,723.0 703.3,722.5" fill="#635942" stroke="#635942" stroke-width="0.6"/>
<polygon points="695.0,725.7 703.6,726.2 711.9,723.0" fill="#635942" stroke="#635942" stroke-width="0.6"/>
<polygon points="703.6,726.2 720.4,717.5 711.9,723.0" fill="#968764" stroke="#968764" stroke-width="0.6"/>
<polygon points="703.6,726.2 712.1,720.0 720.4,717.5" fill="#968765" stroke="#968765" stroke-width="0.6"/>
<polygon points="498.4,707.7 515.3,701.1 506.7,705.3" fill="#8d7f5f" stroke="#8d7f5f" stroke-width="0.6"/>
<polygon points="498.4,707.7 507.0,712.4 515.3,701.1" fill="#40392b" stroke="#40392b" stroke-width="0.6"/>
<polygon points="515.5,704.4 523.8,706.0 515.3,701.1" fill="#1c1913" stroke="#1c1913" stroke-width="0.6"/>
<polygon points="507.0,712.4 515.5,704.4 515.3,701.1" fill="#a6956f" stroke="#a6956f" stroke-width="0.6"/>
<polygon points="524.1,707.4 532.4,711.6 523.8,706.0" fill="#1c1913" stroke="#1c1913" stroke-width="0.6"/>
<polygon points="515.5,704.4 524.1,707.4 523.8,706.0" fill="#312c21" stroke="#312c21" stroke-width="0.6"/>
<polygon points="532.6,704.8 540.9,701.9 532.4,711.6" fill="#9e8e6a" stroke="#9e8e6a" stroke-width="0.6"/>
<polygon points="524.1,707.4 532.6,704.8 532.4,711.6" fill="#655b44" stroke="#655b44" stroke-width="0.6"/>
<polygon points="541.2,707.1 549.5,707.6 540.9,701.9" fill="#1c1913" stroke="#1c1913" stroke-width="0.6"/>
<polygon points="532.6,704.8 541.2,707.1 540.9,701.9" fill="#4a4332" stroke="#4a4332" stroke-width="0.6"/>
<polygon points="541.2,707.1 558.1,711.7 549.5,707.6" fill="#27231a" stroke="#27231a" stroke-width="0.6"/>
<polygon points="541.2,707.1 549.8,710.6 558.1,711.7" fill="#2d281e" stroke="#2d281e" stroke-width="0.6"/>
<polygon points="549.8,710.6 566.6,703.6 558.1,711.7" fill="#908160" stroke="#908160" stroke-width="0.6"/>
<polygon points="549.8,710.6 558.3,711.9 566.6,703.6" fill="#655b44" stroke="#655b44" stroke-width="0.6"/>
<polygon points="566.9,714.8 575.2,706.2 566.6,703.6" fill="#554d39" stroke="#554d39" stroke-width="0.6"/>
<polygon points="558.3,711.9 566.9,714.8 566.6,703.6" fill="#514936" stroke="#514936" stroke-width="0.6"/>
<polygon points="575.4,714.7 583.7,706.5 575.2,706.2" fill="#72664c" stroke="#72664c" stroke-width="0.6"/>
<polygon points="566.9,714.8 575.4,714.7 575.2,706.2" fill="#776b50" stroke="#776b50" stroke-width="0.6"/>
<polygon points="584.0,718.1 592.3,713.9 583.7,706.5" fill="#1c1913" stroke="#1c1913" stroke-width="0.6"/>
<polygon points="575.4,714.7 584.0,718.1 583.7,706.5" fill="#494231" stroke="#494231" stroke-width="0.6"/>
<polygon points="584.0,718.1 600.9,714.4 592.3,713.9" fill="#675d45" stroke="#675d45" stroke-width="0.6"/>
<polygon points="584.0,718.1 592.6,717.5 600.9,714.4" fill="#71664c" stroke="#71664c" stroke-width="0.6"/>
<polygon points="601.1,723.7 609.4,720.5 600.9,714.4" fill="#1c1913" stroke="#1c1913" stroke-width="0.6"/>
<polygon points="592.6,717.5 601.1,723.7 600.9,714.4" fill="#1c1913" stroke="#1c1913" stroke-width="0.6"/>
<polygon points="609.7,724.2 618.0,721.0 609.4,720.5" fill="#635942" stroke="#635942" stroke-width="0.6"/>
<polygon points="601.1,723.7 609.7,724.2 609.4,720.5" fill="#635942" stroke="#635942" stroke-width="0.6"/>
<polygon points="618.2,724.7 626.5,721.5 618.0,721.0" fill="#635942" stroke="#635942" stroke-width="0.6"/>
<polygon points="609.7,724.2 618.2,724.7 618.0,721.0" fill="#635942" stroke="#635942" stroke-width="0.6"/>
<polygon points="626.8,725.2 635.1,722.0 626.5,721.5" fill="#635942" stroke="#635942" stroke-width="0.6"/>
<polygon points="618.2,724.7 626.8,725.2 626.5,721.5" fill="#635942" stroke="#635942" stroke-width="0.6"/>
<polygon points="635.4,725.8 643.7,722.6 635.1,722.0" fill="#635942" stroke="#635942" stroke-width="0.6"/>
<polygon points="626.8,725.2 635.4,725.8 635.1,722.0" fill="#635942" stroke="#635942" stroke-width="0.6"/>
<polygon points="635.4,725.8 652.2,723.1 643.7,722.6" fill="#635942" stroke="#635942" stroke-width="0.6"/>
<polygon points="635.4,725.8 643.9,726.3 652.2,723.1" fill="#635942" stroke="#635942" stroke-width="0.6"/>
<polygon points="643.9,726.3 660.8,723.6 652.2,723.1" fill="#635942" stroke="#635942" stroke-width="0.6"/>
<polygon points="643.9,726.3 652.5,726.8 660.8,723.6" fill="#635942" stroke="#635942" stroke-width="0.6"/>
<polygon points="661.0,727.3 669.3,724.1 660.8,723.6" fill="#635942" stroke="#635942" stroke-width="0.6"/>
<polygon points="652.5,726.8 661.0,727.3 660.8,723.6" fill="#635942" stroke="#635942" stroke-width="0.6"/>
<polygon points="669.6,727.8 677.9,724.6 669.3,724.1" fill="#635942" stroke="#635942" stroke-width="0.6"/>
<polygon points="661.0,727.3 669.6,727.8 669.3,724.1" fill="#635942" stroke="#635942" stroke-width="0.6"/>
<polygon points="669.6,727.8 686.5,725.2 677.9,724.6" fill="#635942" stroke="#635942" stroke-width="0.6"/>
<polygon points="669.6,727.8 678.2,728.4 686.5,725.2" fill="#635942" stroke="#635942" stroke-width="0.6"/>
<polygon points="686.7,728.9 695.0,725.7 686.5,725.2" fill="#635942" stroke="#635942" stroke-width="0.6"/>
<polygon points="678.2,728.4 686.7,728.9 686.5,725.2" fill="#635942" stroke="#635942" stroke-width="0.6"/>
<polygon points="695.3,729.4 703.6,726.2 695.0,725.7" fill="#635942" stroke="#635942" stroke-width="0.6"/>
<polygon points="686.7,728.9 695.3,729.4 695.0,725.7" fill="#635942" stroke="#635942" stroke-width="0.6"/>
<polygon points="703.8,720.8 712.1,720.0 703.6,726.2" fill="#918261" stroke="#918261" stroke-width="0.6"/>
<polygon points="695.3,729.4 703.8,720.8 703.6,726.2" fill="#9d8d69" stroke="#9d8d69" stroke-width="0.6"/>
<polygon points="498.7,712.2 507.0,712.4 498.4,707.7" fill="#211e16" stroke="#211e16" stroke-width="0.6"/>
<polygon points="490.1,710.3 498.7,712.2 498.4,707.7" fill="#4e4635" stroke="#4e4635" stroke-width="0.6"/>
<polygon points="507.2,717.1 515.5,704.4 507.0,712.4" fill="#a6956f" stroke="#a6956f" stroke-width="0.6"/>
<polygon points="498.7,712.2 507.2,717.1 507.0,712.4" fill="#1f1c15" stroke="#1f1c15" stroke-width="0.6"/>
<polygon points="515.8,716.5 524.1,707.4 515.5,704.4" fill="#514936" stroke="#514936" stroke-width="0.6"/>
<polygon points="507.2,717.1 515.8,716.5 515.5,704.4" fill="#807256" stroke="#807256" stroke-width="0.6"/>
<polygon points="515.8,716.5 532.6,704.8 524.1,707.4" fill="#8f8160" stroke="#8f8160" stroke-width="0.6"/>
<polygon points="515.8,716.5 524.3,710.5 532.6,704.8" fill="#9d8d69" stroke="#9d8d69" stroke-width="0.6"/>
<polygon points="532.9,713.5 541.2,707.1 532.6,704.8" fill="#544c39" stroke="#544c39" stroke-width="0.6"/>
<polygon points="524.3,710.5 532.9,713.5 532.6,704.8" fill="#494131" stroke="#494131" stroke-width="0.6"/>
<polygon points="532.9,713.5 549.8,710.6 541.2,707.1" fill="#453e2e" stroke="#453e2e" stroke-width="0.6"/>
<polygon points="532.9,713.5 541.5,718.7 549.8,710.6" fill="#332d22" stroke="#332d22" stroke-width="0.6"/>
<polygon points="541.5,718.7 558.3,711.9 549.8,710.6" fill="#655b44" stroke="#655b44" stroke-width="0.6"/>
<polygon points="541.5,718.7 550.0,717.2 558.3,711.9" fill="#817456" stroke="#817456" stroke-width="0.6"/>
<polygon points="558.6,720.9 566.9,714.8 558.3,711.9" fill="#4c4433" stroke="#4c4433" stroke-width="0.6"/>
<polygon points="550.0,717.2 558.6,720.9 558.3,711.9" fill="#3e382a" stroke="#3e382a" stroke-width="0.6"/>
<polygon points="567.1,721.2 575.4,714.7 566.9,714.8" fill="#74684e" stroke="#74684e" stroke-width="0.6"/>
<polygon points="558.6,720.9 567.1,721.2 566.9,714.8" fill="#6e634a" stroke="#6e634a" stroke-width="0.6"/>
<polygon points="567.1,721.2 584.0,718.1 575.4,714.7" fill="#453e2e" stroke="#453e2e" stroke-width="0.6"/>
<polygon points="567.1,721.2 575.7,714.5 584.0,718.1" fill="#827557" stroke="#827557" stroke-width="0.6"/>
<polygon points="575.7,714.5 592.6,717.5 584.0,718.1" fill="#554c39" stroke="#554c39" stroke-width="0.6"/>
<polygon points="575.7,714.5 584.3,723.0 592.6,717.5" fill="#1c1913" stroke="#1c1913" stroke-width="0.6"/>
<polygon points="592.8,726.9 601.1,723.7 592.6,717.5" fill="#1c1913" stroke="#1c1913" stroke-width="0.6"/>
<polygon points="584.3,723.0 592.8,726.9 592.6,717.5" fill="#3d3729" stroke="#3d3729" stroke-width="0.6"/>
<polygon points="601.4,727.4 609.7,724.2 601.1,723.7" fill="#635942" stroke="#635942" stroke-width="0.6"/>
<polygon points="592.8,726.9 601.4,727.4 601.1,723.7" fill="#635942" stroke="#635942" stroke-width="0.6"/>
<polygon points="609.9,727.9 618.2,724.7 609.7,724.2" fill="#635942" stroke="#635942" stroke-width="0.6"/>
<polygon points="601.4,727.4 609.9,727.9 609.7,724.2" fill="#635942" stroke="#635942" stroke-width="0.6"/>
<polygon points="618.5,728.4 626.8,725.2 618.2,724.7" fill="#635942" stroke="#635942" stroke-width="0.6"/>
<polygon points="609.9,727.9 618.5,728.4 618.2,724.7" fill="#635942" stroke="#635942" stroke-width="0.6"/>
<polygon points="627.1,728.9 635.4,725.8 626.8,725.2" fill="#635942" stroke="#635942" stroke-width="0.6"/>
<polygon points="618.5,728.4 627.1,728.9 626.8,725.2" fill="#635942" stroke="#635942" stroke-width="0.6"/>
<polygon points="635.6,729.5 643.9,726.3 635.4,725.8" fill="#635942" stroke="#635942" stroke-width="0.6"/>
<polygon points="627.1,728.9 635.6,729.5 635.4,725.8" fill="#635942" stroke="#635942" stroke-width="0.6"/>
<polygon points="644.2,730.0 652.5,726.8 643.9,726.3" fill="#635942" stroke="#635942" stroke-width="0.6"/>
<polygon points="635.6,729.5 644.2,730.0 643.9,726.3" fill="#635942" stroke="#635942" stroke-width="0.6"/>
<polygon points="644.2,730.0 661.0,727.3 652.5,726.8" fill="#635942" stroke="#635942" stroke-width="0.6"/>
<polygon points="644.2,730.0 652.7,730.5 661.0,727.3" fill="#635942" stroke="#635942" stroke-width="0.6"/>
<polygon points="652.7,730.5 669.6,727.8 661.0,727.3" fill="#635942" stroke="#635942" stroke-width="0.6"/>
<polygon points="652.7,730.5 661.3,731.0 669.6,727.8" fill="#635942" stroke="#635942" stroke-width="0.6"/>
<polygon points="661.3,731.0 678.2,728.4 669.6,727.8" fill="#635942" stroke="#635942" stroke-width="0.6"/>
<polygon points="661.3,731.0 669.9,731.5 678.2,728.4" fill="#635942" stroke="#635942" stroke-width="0.6"/>
<polygon points="678.4,732.1 686.7,728.9 678.2,728.4" fill="#635942" stroke="#635942" stroke-width="0.6"/>
<polygon points="669.9,731.5 678.4,732.1 678.2,728.4" fill="#635942" stroke="#635942" stroke-width="0.6"/>
<polygon points="687.0,732.6 695.3,729.4 686.7,728.9" fill="#635942" stroke="#635942" stroke-width="0.6"/>
<polygon points="678.4,732.1 687.0,732.6 686.7,728.9" fill="#635942" stroke="#635942" stroke-width="0.6"/>
<polygon points="687.0,732.6 703.8,720.8 695.3,729.4" fill="#9d8d69" stroke="#9d8d69" stroke-width="0.6"/>
<polygon points="687.0,732.6 695.5,727.0 703.8,720.8" fill="#9d8d69" stroke="#9d8d69" stroke-width="0.6"/>
<polygon points="481.8,714.0 498.7,712.2 490.1,710.3" fill="#524a37" stroke="#524a37" stroke-width="0.6"/>
<polygon points="481.8,714.0 490.4,718.7 498.7,712.2" fill="#352f23" stroke="#352f23" stroke-width="0.6"/>
<polygon points="498.9,720.7 507.2,717.1 498.7,712.2" fill="#2a261c" stroke="#2a261c" stroke-width="0.6"/>
<polygon points="490.4,718.7 498.9,720.7 498.7,712.2" fill="#594f3b" stroke="#594f3b" stroke-width="0.6"/>
<polygon points="498.9,720.7 515.8,716.5 507.2,717.1" fill="#73674d" stroke="#73674d" stroke-width="0.6"/>
<polygon points="498.9,720.7 507.5,714.1 515.8,716.5" fill="#87795a" stroke="#87795a" stroke-width="0.6"/>
<polygon points="507.5,714.1 524.3,710.5 515.8,716.5" fill="#847759" stroke="#847759" stroke-width="0.6"/>
<polygon points="507.5,714.1 516.0,721.6 524.3,710.5" fill="#221e17" stroke="#221e17" stroke-width="0.6"/>
<polygon points="516.0,721.6 532.9,713.5 524.3,710.5" fill="#544c39" stroke="#544c39" stroke-width="0.6"/>
<polygon points="516.0,721.6 524.6,718.2 532.9,713.5" fill="#8f8060" stroke="#8f8060" stroke-width="0.6"/>
<polygon points="533.2,713.9 541.5,718.7 532.9,713.5" fill="#1c1913" stroke="#1c1913" stroke-width="0.6"/>
<polygon points="524.6,718.2 533.2,713.9 532.9,713.5" fill="#948563" stroke="#948563" stroke-width="0.6"/>
<polygon points="533.2,713.9 550.0,717.2 541.5,718.7" fill="#59503c" stroke="#59503c" stroke-width="0.6"/>
<polygon points="533.2,713.9 541.7,721.1 550.0,717.2" fill="#1c1913" stroke="#1c1913" stroke-width="0.6"/>
<polygon points="541.7,721.1 558.6,720.9 550.0,717.2" fill="#3a3427" stroke="#3a3427" stroke-width="0.6"/>
<polygon points="541.7,721.1 550.3,713.3 558.6,720.9" fill="#776a4f" stroke="#776a4f" stroke-width="0.6"/>
<polygon points="558.8,718.6 567.1,721.2 558.6,720.9" fill="#4f4635" stroke="#4f4635" stroke-width="0.6"/>
<polygon points="550.3,713.3 558.8,718.6 558.6,720.9" fill="#1c1913" stroke="#1c1913" stroke-width="0.6"/>
<polygon points="567.4,716.9 575.7,714.5 567.1,721.2" fill="#988866" stroke="#988866" stroke-width="0.6"/>
<polygon points="558.8,718.6 567.4,716.9 567.1,721.2" fill="#655b44" stroke="#655b44" stroke-width="0.6"/>
<polygon points="567.4,716.9 584.3,723.0 575.7,714.5" fill="#1c1913" stroke="#1c1913" stroke-width="0.6"/>
<polygon points="567.4,716.9 576.0,725.9 584.3,723.0" fill="#1c1913" stroke="#1c1913" stroke-width="0.6"/>
<polygon points="584.5,730.1 592.8,726.9 584.3,723.0" fill="#363024" stroke="#363024" stroke-width="0.6"/>
<polygon points="576.0,725.9 584.5,730.1 584.3,723.0" fill="#322d21" stroke="#322d21" stroke-width="0.6"/>
<polygon points="584.5,730.1 601.4,727.4 592.8,726.9" fill="#635942" stroke="#635942" stroke-width="0.6"/>
<polygon points="584.5,730.1 593.1,730.6 601.4,727.4" fill="#635942" stroke="#635942" stroke-width="0.6"/>
<polygon points="593.1,730.6 609.9,727.9 601.4,727.4" fill="#635942" stroke="#635942" stroke-width="0.6"/>
<polygon points="593.1,730.6 601.6,731.1 609.9,727.9" fill="#635942" stroke="#635942" stroke-width="0.6"/>
<polygon points="610.2,731.6 618.5,728.4 609.9,727.9" fill="#635942" stroke="#635942" stroke-width="0.6"/>
<polygon points="601.6,731.1 610.2,731.6 609.9,727.9" fill="#635942" stroke="#635942" stroke-width="0.6"/>
<polygon points="618.8,732.1 627.1,728.9 618.5,728.4" fill="#635942" stroke="#635942" stroke-width="0.6"/>
<polygon points="610.2,731.6 618.8,732.1 618.5,728.4" fill="#635942" stroke="#635942" stroke-width="0.6"/>
<polygon points="627.3,732.6 635.6,729.5 627.1,728.9" fill="#635942" stroke="#635942" stroke-width="0.6"/>
<polygon points="618.8,732.1 627.3,732.6 627.1,728.9" fill="#635942" stroke="#635942" stroke-width="0.6"/>
<polygon points="627.3,732.6 644.2,730.0 635.6,729.5" fill="#635942" stroke="#635942" stroke-width="0.6"/>
<polygon points="627.3,732.6 635.9,733.2 644.2,730.0" fill="#635942" stroke="#635942" stroke-width="0.6"/>
<polygon points="644.4,733.7 652.7,730.5 644.2,730.0" fill="#635942" stroke="#635942" stroke-width="0.6"/>
<polygon points="635.9,733.2 644.4,733.7 644.2,730.0" fill="#635942" stroke="#635942" stroke-width="0.6"/>
<polygon points="653.0,734.2 661.3,731.0 652.7,730.5" fill="#635942" stroke="#635942" stroke-width="0.6"/>
<polygon points="644.4,733.7 653.0,734.2 652.7,730.5" fill="#635942" stroke="#635942" stroke-width="0.6"/>
<polygon points="661.6,734.7 669.9,731.5 661.3,731.0" fill="#635942" stroke="#635942" stroke-width="0.6"/>
<polygon points="653.0,734.2 661.6,734.7 661.3,731.0" fill="#635942" stroke="#635942" stroke-width="0.6"/>
<polygon points="661.6,734.7 678.4,732.1 669.9,731.5" fill="#635942" stroke="#635942" stroke-width="0.6"/>
<polygon points="661.6,734.7 670.1,735.2 678.4,732.1" fill="#635942" stroke="#635942" stroke-width="0.6"/>
<polygon points="678.7,735.8 687.0,732.6 678.4,732.1" fill="#635942" stroke="#635942" stroke-width="0.6"/>
<polygon points="670.1,735.2 678.7,735.8 678.4,732.1" fill="#635942" stroke="#635942" stroke-width="0.6"/>
<polygon points="687.2,730.0 695.5,727.0 687.0,732.6" fill="#968764" stroke="#968764" stroke-width="0.6"/>
<polygon points="678.7,735.8 687.2,730.0 687.0,732.6" fill="#978765" stroke="#978765" stroke-width="0.6"/>
<polygon points="473.5,717.7 490.4,718.7 481.8,714.0" fill="#2d281e" stroke="#2d281e" stroke-width="0.6"/>
<polygon points="473.5,717.7 482.1,719.0 490.4,718.7" fill="#4e4634" stroke="#4e4634" stroke-width="0.6"/>
<polygon points="490.6,720.3 498.9,720.7 490.4,718.7" fill="#423b2c" stroke="#423b2c" stroke-width="0.6"/>
<polygon points="482.1,719.0 490.6,720.3 490.4,718.7" fill="#4e4634" stroke="#4e4634" stroke-width="0.6"/>
<polygon points="499.2,721.6 507.5,714.1 498.9,720.7" fill="#a1916c" stroke="#a1916c" stroke-width="0.6"/>
<polygon points="490.6,720.3 499.2,721.6 498.9,720.7" fill="#4b4332" stroke="#4b4332" stroke-width="0.6"/>
<polygon points="507.7,723.4 516.0,721.6 507.5,714.1" fill="#1c1913" stroke="#1c1913" stroke-width="0.6"/>
<polygon points="499.2,721.6 507.7,723.4 507.5,714.1" fill="#5d533e" stroke="#5d533e" stroke-width="0.6"/>
<polygon points="516.3,725.3 524.6,718.2 516.0,721.6" fill="#938463" stroke="#938463" stroke-width="0.6"/>
<polygon points="507.7,723.4 516.3,725.3 516.0,721.6" fill="#4c4433" stroke="#4c4433" stroke-width="0.6"/>
<polygon points="524.9,727.1 533.2,713.9 524.6,718.2" fill="#9a8a67" stroke="#9a8a67" stroke-width="0.6"/>
<polygon points="516.3,725.3 524.9,727.1 524.6,718.2" fill="#5c533e" stroke="#5c533e" stroke-width="0.6"/>
<polygon points="524.9,727.1 541.7,721.1 533.2,713.9" fill="#29251c" stroke="#29251c" stroke-width="0.6"/>
<polygon points="524.9,727.1 533.4,727.3 541.7,721.1" fill="#70644b" stroke="#70644b" stroke-width="0.6"/>
<polygon points="542.0,727.5 550.3,713.3 541.7,721.1" fill="#a5946f" stroke="#a5946f" stroke-width="0.6"/>
<polygon points="533.4,727.3 542.0,727.5 541.7,721.1" fill="#70644b" stroke="#70644b" stroke-width="0.6"/>
<polygon points="550.5,727.7 558.8,718.6 550.3,713.3" fill="#342e23" stroke="#342e23" stroke-width="0.6"/>
<polygon points="542.0,727.5 550.5,727.7 550.3,713.3" fill="#776b50" stroke="#776b50" stroke-width="0.6"/>
<polygon points="550.5,727.7 567.4,716.9 558.8,718.6" fill="#887a5b" stroke="#887a5b" stroke-width="0.6"/>
<polygon points="550.5,727.7 559.1,729.5 567.4,716.9" fill="#645a43" stroke="#645a43" stroke-width="0.6"/>
<polygon points="559.1,729.5 576.0,725.9 567.4,716.9" fill="#1c1913" stroke="#1c1913" stroke-width="0.6"/>
<polygon points="559.1,729.5 567.7,731.4 576.0,725.9" fill="#584f3b" stroke="#584f3b" stroke-width="0.6"/>
<polygon points="576.2,733.2 584.5,730.1 576.0,725.9" fill="#332e22" stroke="#332e22" stroke-width="0.6"/>
<polygon points="567.7,731.4 576.2,733.2 576.0,725.9" fill="#584f3b" stroke="#584f3b" stroke-width="0.6"/>
<polygon points="584.8,733.8 593.1,730.6 584.5,730.1" fill="#635942" stroke="#635942" stroke-width="0.6"/>
<polygon points="576.2,733.2 584.8,733.8 584.5,730.1" fill="#635942" stroke="#635942" stroke-width="0.6"/>
<polygon points="593.3,734.3 601.6,731.1 593.1,730.6" fill="#635942" stroke="#635942" stroke-width="0.6"/>
<polygon points="584.8,733.8 593.3,734.3 593.1,730.6" fill="#635942" stroke="#635942" stroke-width="0.6"/>
<polygon points="593.3,734.3 610.2,731.6 601.6,731.1" fill="#635942" stroke="#635942" stroke-width="0.6"/>
<polygon points="593.3,734.3 601.9,734.8 610.2,731.6" fill="#635942" stroke="#635942" stroke-width="0.6"/>
<polygon points="610.5,735.3 618.8,732.1 610.2,731.6" fill="#635942" stroke="#635942" stroke-width="0.6"/>
<polygon points="601.9,734.8 610.5,735.3 610.2,731.6" fill="#635942" stroke="#635942" stroke-width="0.6"/>
<polygon points="619.0,735.8 627.3,732.6 618.8,732.1" fill="#635942" stroke="#635942" stroke-width="0.6"/>
<polygon points="610.5,735.3 619.0,735.8 618.8,732.1" fill="#635942" stroke="#635942" stroke-width="0.6"/>
<polygon points="627.6,736.4 635.9,733.2 627.3,732.6" fill="#635942" stroke="#635942" stroke-width="0.6"/>
<polygon points="619.0,735.8 627.6,736.4 627.3,732.6" fill="#635942" stroke="#635942" stroke-width="0.6"/>
<polygon points="627.6,736.4 644.4,733.7 635.9,733.2" fill="#635942" stroke="#635942" stroke-width="0.6"/>
<polygon points="627.6,736.4 636.1,736.9 644.4,733.7" fill="#635942" stroke="#635942" stroke-width="0.6"/>
<polygon points="636.1,736.9 653.0,734.2 644.4,733.7" fill="#635942" stroke="#635942" stroke-width="0.6"/>
<polygon points="636.1,736.9 644.7,737.4 653.0,734.2" fill="#635942" stroke="#635942" stroke-width="0.6"/>
<polygon points="653.3,737.9 661.6,734.7 653.0,734.2" fill="#635942" stroke="#635942" stroke-width="0.6"/>
<polygon points="644.7,737.4 653.3,737.9 653.0,734.2" fill="#635942" stroke="#635942" stroke-width="0.6"/>
<polygon points="661.8,738.4 670.1,735.2 661.6,734.7" fill="#635942" stroke="#635942" stroke-width="0.6"/>
<polygon points="653.3,737.9 661.8,738.4 661.6,734.7" fill="#635942" stroke="#635942" stroke-width="0.6"/>
<polygon points="670.4,739.0 678.7,735.8 670.1,735.2" fill="#635942" stroke="#635942" stroke-width="0.6"/>
<polygon points="661.8,738.4 670.4,739.0 670.1,735.2" fill="#635942" stroke="#635942" stroke-width="0.6"/>
<polygon points="670.4,739.0 687.2,730.0 678.7,735.8" fill="#978765" stroke="#978765" stroke-width="0.6"/>
<polygon points="670.4,739.0 678.9,737.3 687.2,730.0" fill="#86785a" stroke="#86785a" stroke-width="0.6"/>
<polygon points="654.6,701.1 655.9,693.2 659.8,686.0 666.0,679.6 674.3,674.5 684.3,670.9 695.3,668.9 707.0,668.7 718.6,670.3 729.7,673.6 739.6,678.5 747.9,684.6 754.2,691.7 758.1,699.4 759.4,707.4" fill="#0c0cd8"/>
<polygon points="571.6,733.0 572.9,725.1 655.9,693.2 654.6,701.1" fill="#1313cc" stroke="#1313cc" stroke-width="0.6"/>
<polygon points="572.9,725.1 576.8,717.9 659.8,686.0 655.9,693.2" fill="#1313cd" stroke="#1313cd" stroke-width="0.6"/>
<polygon points="576.8,717.9 583.0,711.5 666.0,679.6 659.8,686.0" fill="#1212d1" stroke="#1212d1" stroke-width="0.6"/>
<polygon points="583.0,711.5 591.3,706.4 674.3,674.5 666.0,679.6" fill="#1010d6" stroke="#1010d6" stroke-width="0.6"/>
<polygon points="591.3,706.4 601.3,702.8 684.3,670.9 674.3,674.5" fill="#0e0edc" stroke="#0e0edc" stroke-width="0.6"/>
<polygon points="601.3,702.8 612.3,700.8 695.3,668.9 684.3,670.9" fill="#0c0ce2" stroke="#0c0ce2" stroke-width="0.6"/>
<polygon points="612.3,700.8 624.0,700.6 707.0,668.7 695.3,668.9" fill="#0c0ce6" stroke="#0c0ce6" stroke-width="0.6"/>
<polygon points="624.0,700.6 635.6,702.2 718.6,670.3 707.0,668.7" fill="#0c0ce6" stroke="#0c0ce6" stroke-width="0.6"/>
<polygon points="635.6,702.2 646.7,705.5 729.7,673.6 718.6,670.3" fill="#0c0ce6" stroke="#0c0ce6" stroke-width="0.6"/>
<polygon points="646.7,705.5 656.6,710.4 739.6,678.5 729.7,673.6" fill="#151aea" stroke="#151aea" stroke-width="0.6"/>
<polygon points="656.6,710.4 664.9,716.5 747.9,684.6 739.6,678.5" fill="#1e28ee" stroke="#1e28ee" stroke-width="0.6"/>
<polygon points="664.9,716.5 671.2,723.6 754.2,691.7 747.9,684.6" fill="#2533f1" stroke="#2533f1" stroke-width="0.6"/>
<polygon points="671.2,723.6 675.1,731.3 758.1,699.4 754.2,691.7" fill="#2634f2" stroke="#2634f2" stroke-width="0.6"/>
<polygon points="675.1,731.3 676.4,739.3 759.4,707.4 758.1,699.4" fill="#2634f2" stroke="#2634f2" stroke-width="0.6"/>
<polygon points="571.6,733.0 572.9,725.1 576.8,717.9 583.0,711.5 591.3,706.4 601.3,702.8 612.3,700.8 624.0,700.6 635.6,702.2 646.7,705.5 656.6,710.4 664.9,716.5 671.2,723.6 675.1,731.3 676.4,739.3" fill="#1013d6"/>
<polygon points="745.1,710.2 761.9,695.7 753.4,707.1" fill="#7f7255" stroke="#7f7255" stroke-width="0.6"/>
<polygon points="745.1,710.2 753.6,702.7 761.9,695.7" fill="#918261" stroke="#918261" stroke-width="0.6"/>
<polygon points="753.6,702.7 770.5,692.4 761.9,695.7" fill="#948563" stroke="#948563" stroke-width="0.6"/>
<polygon points="753.6,702.7 762.2,695.2 770.5,692.4" fill="#837658" stroke="#837658" stroke-width="0.6"/>
<polygon points="762.2,695.2 779.1,696.9 770.5,692.4" fill="#4d4534" stroke="#4d4534" stroke-width="0.6"/>
<polygon points="762.2,695.2 770.8,695.7 779.1,696.9" fill="#59503c" stroke="#59503c" stroke-width="0.6"/>
<polygon points="779.3,704.8 787.6,693.1 779.1,696.9" fill="#9d8d69" stroke="#9d8d69" stroke-width="0.6"/>
<polygon points="770.8,695.7 779.3,704.8 779.1,696.9" fill="#191611" stroke="#191611" stroke-width="0.6"/>
<polygon points="779.3,704.8 796.2,694.3 787.6,693.1" fill="#887a5b" stroke="#887a5b" stroke-width="0.6"/>
<polygon points="779.3,704.8 787.9,696.6 796.2,694.3" fill="#807356" stroke="#807356" stroke-width="0.6"/>
<polygon points="796.4,696.5 804.7,698.0 796.2,694.3" fill="#3d3729" stroke="#3d3729" stroke-width="0.6"/>
<polygon points="787.9,696.6 796.4,696.5 796.2,694.3" fill="#72664c" stroke="#72664c" stroke-width="0.6"/>
<polygon points="805.0,705.8 813.3,704.0 804.7,698.0" fill="#3b3527" stroke="#3b3527" stroke-width="0.6"/>
<polygon points="796.4,696.5 805.0,705.8 804.7,698.0" fill="#16140f" stroke="#16140f" stroke-width="0.6"/>
<polygon points="736.8,713.4 753.6,702.7 745.1,710.2" fill="#857759" stroke="#857759" stroke-width="0.6"/>
<polygon points="736.8,713.4 745.3,704.4 753.6,702.7" fill="#7d7054" stroke="#7d7054" stroke-width="0.6"/>
<polygon points="753.9,699.8 762.2,695.2 753.6,702.7" fill="#8a7c5c" stroke="#8a7c5c" stroke-width="0.6"/>
<polygon points="745.3,704.4 753.9,699.8 753.6,702.7" fill="#7f7255" stroke="#7f7255" stroke-width="0.6"/>
<polygon points="762.5,696.0 770.8,695.7 762.2,695.2" fill="#625841" stroke="#625841" stroke-width="0.6"/>
<polygon points="753.9,699.8 762.5,696.0 762.2,695.2" fill="#8c7d5e" stroke="#8c7d5e" stroke-width="0.6"/>
<polygon points="762.5,696.0 779.3,704.8 770.8,695.7" fill="#1e1b14" stroke="#1e1b14" stroke-width="0.6"/>
<polygon points="762.5,696.0 771.0,707.5 779.3,704.8" fill="#191611" stroke="#191611" stroke-width="0.6"/>
<polygon points="771.0,707.5 787.9,696.6 779.3,704.8" fill="#827457" stroke="#827457" stroke-width="0.6"/>
<polygon points="771.0,707.5 779.6,706.7 787.9,696.6" fill="#928362" stroke="#928362" stroke-width="0.6"/>
<polygon points="788.1,700.0 796.4,696.5 787.9,696.6" fill="#796d51" stroke="#796d51" stroke-width="0.6"/>
<polygon points="779.6,706.7 788.1,700.0 787.9,696.6" fill="#998a67" stroke="#998a67" stroke-width="0.6"/>
<polygon points="788.1,700.0 805.0,705.8 796.4,696.5" fill="#28241b" stroke="#28241b" stroke-width="0.6"/>
<polygon points="788.1,700.0 796.7,709.9 805.0,705.8" fill="#27231a" stroke="#27231a" stroke-width="0.6"/>
<polygon points="737.0,710.6 745.3,704.4 736.8,713.4" fill="#8c7e5e" stroke="#8c7e5e" stroke-width="0.6"/>
<polygon points="728.5,716.6 737.0,710.6 736.8,713.4" fill="#86785a" stroke="#86785a" stroke-width="0.6"/>
<polygon points="737.0,710.6 753.9,699.8 745.3,704.4" fill="#928362" stroke="#928362" stroke-width="0.6"/>
<polygon points="737.0,710.6 745.6,701.0 753.9,699.8" fill="#7b6e52" stroke="#7b6e52" stroke-width="0.6"/>
<polygon points="745.6,701.0 762.5,696.0 753.9,699.8" fill="#7c6f53" stroke="#7c6f53" stroke-width="0.6"/>
<polygon points="745.6,701.0 754.2,701.6 762.5,696.0" fill="#7e7154" stroke="#7e7154" stroke-width="0.6"/>
<polygon points="754.2,701.6 771.0,707.5 762.5,696.0" fill="#221f17" stroke="#221f17" stroke-width="0.6"/>
<polygon points="754.2,701.6 762.7,710.3 771.0,707.5" fill="#2a261c" stroke="#2a261c" stroke-width="0.6"/>
<polygon points="771.3,711.9 779.6,706.7 771.0,707.5" fill="#857759" stroke="#857759" stroke-width="0.6"/>
<polygon points="762.7,710.3 771.3,711.9 771.0,707.5" fill="#685e46" stroke="#685e46" stroke-width="0.6"/>
<polygon points="779.8,706.7 788.1,700.0 779.6,706.7" fill="#918361" stroke="#918361" stroke-width="0.6"/>
<polygon points="771.3,711.9 779.8,706.7 779.6,706.7" fill="#8e805f" stroke="#8e805f" stroke-width="0.6"/>
<polygon points="788.4,713.9 796.7,709.9 788.1,700.0" fill="#27231a" stroke="#27231a" stroke-width="0.6"/>
<polygon points="779.8,706.7 788.4,713.9 788.1,700.0" fill="#433d2d" stroke="#433d2d" stroke-width="0.6"/>
<polygon points="728.7,714.4 737.0,710.6 728.5,716.6" fill="#897b5c" stroke="#897b5c" stroke-width="0.6"/>
<polygon points="720.2,719.8 728.7,714.4 728.5,716.6" fill="#86795a" stroke="#86795a" stroke-width="0.6"/>
<polygon points="728.7,714.4 745.6,701.0 737.0,710.6" fill="#847658" stroke="#847658" stroke-width="0.6"/>
<polygon points="728.7,714.4 737.3,705.3 745.6,701.0" fill="#86785a" stroke="#86785a" stroke-width="0.6"/>
<polygon points="745.9,703.0 754.2,701.6 745.6,701.0" fill="#685d46" stroke="#685d46" stroke-width="0.6"/>
<polygon points="737.3,705.3 745.9,703.0 745.6,701.0" fill="#87795b" stroke="#87795b" stroke-width="0.6"/>
<polygon points="745.9,703.0 762.7,710.3 754.2,701.6" fill="#242018" stroke="#242018" stroke-width="0.6"/>
<polygon points="745.9,703.0 754.4,713.2 762.7,710.3" fill="#201d16" stroke="#201d16" stroke-width="0.6"/>
<polygon points="754.4,713.2 771.3,711.9 762.7,710.3" fill="#695e46" stroke="#695e46" stroke-width="0.6"/>
<polygon points="754.4,713.2 763.0,705.9 771.3,711.9" fill="#5a513c" stroke="#5a513c" stroke-width="0.6"/>
<polygon points="771.5,715.1 779.8,706.7 771.3,711.9" fill="#988866" stroke="#988866" stroke-width="0.6"/>
<polygon points="763.0,705.9 771.5,715.1 771.3,711.9" fill="#12100c" stroke="#12100c" stroke-width="0.6"/>
<polygon points="780.1,717.9 788.4,713.9 779.8,706.7" fill="#393326" stroke="#393326" stroke-width="0.6"/>
<polygon points="771.5,715.1 780.1,717.9 779.8,706.7" fill="#73684d" stroke="#73684d" stroke-width="0.6"/>
<polygon points="711.9,723.0 728.7,714.4 720.2,719.8" fill="#86795a" stroke="#86795a" stroke-width="0.6"/>
<polygon points="711.9,723.0 720.4,717.5 728.7,714.4" fill="#86785a" stroke="#86785a" stroke-width="0.6"/>
<polygon points="720.4,717.5 737.3,705.3 728.7,714.4" fill="#827557" stroke="#827557" stroke-width="0.6"/>
<polygon points="720.4,717.5 729.0,705.3 737.3,705.3" fill="#73674d" stroke="#73674d" stroke-width="0.6"/>
<polygon points="729.0,705.3 745.9,703.0 737.3,705.3" fill="#70654b" stroke="#70654b" stroke-width="0.6"/>
<polygon points="729.0,705.3 737.6,709.6 745.9,703.0" fill="#5f5540" stroke="#5f5540" stroke-width="0.6"/>
<polygon points="737.6,709.6 754.4,713.2 745.9,703.0" fill="#2d281e" stroke="#2d281e" stroke-width="0.6"/>
<polygon points="737.6,709.6 746.1,716.8 754.4,713.2" fill="#383225" stroke="#383225" stroke-width="0.6"/>
<polygon points="746.1,716.8 763.0,705.9 754.4,713.2" fill="#86795a" stroke="#86795a" stroke-width="0.6"/>
<polygon points="746.1,716.8 754.7,711.1 763.0,705.9" fill="#8e805f" stroke="#8e805f" stroke-width="0.6"/>
<polygon points="763.2,716.7 771.5,715.1 763.0,705.9" fill="#221f17" stroke="#221f17" stroke-width="0.6"/>
<polygon points="754.7,711.1 763.2,716.7 763.0,705.9" fill="#4d4534" stroke="#4d4534" stroke-width="0.6"/>
<polygon points="763.2,716.7 780.1,717.9 771.5,715.1" fill="#564d3a" stroke="#564d3a" stroke-width="0.6"/>
<polygon points="763.2,716.7 771.8,719.7 780.1,717.9" fill="#564d39" stroke="#564d39" stroke-width="0.6"/>
<polygon points="712.1,720.0 720.4,717.5 711.9,723.0" fill="#837658" stroke="#837658" stroke-width="0.6"/>
<polygon points="703.6,726.2 712.1,720.0 711.9,723.0" fill="#86785a" stroke="#86785a" stroke-width="0.6"/>
<polygon points="720.7,709.7 729.0,705.3 720.4,717.5" fill="#817456" stroke="#817456" stroke-width="0.6"/>
<polygon points="712.1,720.0 720.7,709.7 720.4,717.5" fill="#7e7155" stroke="#7e7155" stroke-width="0.6"/>
<polygon points="720.7,709.7 737.6,709.6 729.0,705.3" fill="#564d3a" stroke="#564d3a" stroke-width="0.6"/>
<polygon points="720.7,709.7 729.3,708.2 737.6,709.6" fill="#645a43" stroke="#645a43" stroke-width="0.6"/>
<polygon points="729.3,708.2 746.1,716.8 737.6,709.6" fill="#231f17" stroke="#231f17" stroke-width="0.6"/>
<polygon points="729.3,708.2 737.8,719.3 746.1,716.8" fill="#1a1812" stroke="#1a1812" stroke-width="0.6"/>
<polygon points="737.8,719.3 754.7,711.1 746.1,716.8" fill="#837658" stroke="#837658" stroke-width="0.6"/>
<polygon points="737.8,719.3 746.4,712.2 754.7,711.1" fill="#7c6f53" stroke="#7c6f53" stroke-width="0.6"/>
<polygon points="746.4,712.2 763.2,716.7 754.7,711.1" fill="#3a3427" stroke="#3a3427" stroke-width="0.6"/>
<polygon points="746.4,712.2 754.9,719.2 763.2,716.7" fill="#353024" stroke="#353024" stroke-width="0.6"/>
<polygon points="754.9,719.2 771.8,719.7 763.2,716.7" fill="#59503c" stroke="#59503c" stroke-width="0.6"/>
<polygon points="754.9,719.2 763.5,723.3 771.8,719.7" fill="#544b38" stroke="#544b38" stroke-width="0.6"/>
<polygon points="703.8,720.8 712.1,720.0 703.6,726.2" fill="#7b6f53" stroke="#7b6f53" stroke-width="0.6"/>
<polygon points="695.3,729.4 703.8,720.8 703.6,726.2" fill="#837658" stroke="#837658" stroke-width="0.6"/>
<polygon points="703.8,720.8 720.7,709.7 712.1,720.0" fill="#786c51" stroke="#786c51" stroke-width="0.6"/>
<polygon points="703.8,720.8 712.4,713.9 720.7,709.7" fill="#897b5c" stroke="#897b5c" stroke-width="0.6"/>
<polygon points="721.0,717.7 729.3,708.2 720.7,709.7" fill="#958564" stroke="#958564" stroke-width="0.6"/>
<polygon points="712.4,713.9 721.0,717.7 720.7,709.7" fill="#5a513c" stroke="#5a513c" stroke-width="0.6"/>
<polygon points="721.0,717.7 737.8,719.3 729.3,708.2" fill="#302b20" stroke="#302b20" stroke-width="0.6"/>
<polygon points="721.0,717.7 729.5,715.4 737.8,719.3" fill="#584f3b" stroke="#584f3b" stroke-width="0.6"/>
<polygon points="738.1,715.3 746.4,712.2 737.8,719.3" fill="#857759" stroke="#857759" stroke-width="0.6"/>
<polygon points="729.5,715.4 738.1,715.3 737.8,719.3" fill="#4c4433" stroke="#4c4433" stroke-width="0.6"/>
<polygon points="746.6,720.1 754.9,719.2 746.4,712.2" fill="#2e2a1f" stroke="#2e2a1f" stroke-width="0.6"/>
<polygon points="738.1,715.3 746.6,720.1 746.4,712.2" fill="#4c4433" stroke="#4c4433" stroke-width="0.6"/>
<polygon points="746.6,720.1 763.5,723.3 754.9,719.2" fill="#463f2f" stroke="#463f2f" stroke-width="0.6"/>
<polygon points="746.6,720.1 755.2,726.0 763.5,723.3" fill="#3f392a" stroke="#3f392a" stroke-width="0.6"/>
<polygon points="687.0,732.6 703.8,720.8 695.3,729.4" fill="#837658" stroke="#837658" stroke-width="0.6"/>
<polygon points="687.0,732.6 695.5,727.0 703.8,720.8" fill="#918261" stroke="#918261" stroke-width="0.6"/>
<polygon points="695.5,727.0 712.4,713.9 703.8,720.8" fill="#908160" stroke="#908160" stroke-width="0.6"/>
<polygon points="695.5,727.0 704.1,717.6 712.4,713.9" fill="#847658" stroke="#847658" stroke-width="0.6"/>
<polygon points="712.7,716.3 721.0,717.7 712.4,713.9" fill="#3d3729" stroke="#3d3729" stroke-width="0.6"/>
<polygon points="704.1,717.6 712.7,716.3 712.4,713.9" fill="#817456" stroke="#817456" stroke-width="0.6"/>
<polygon points="712.7,716.3 729.5,715.4 721.0,717.7" fill="#685d46" stroke="#685d46" stroke-width="0.6"/>
<polygon points="712.7,716.3 721.2,719.4 729.5,715.4" fill="#605641" stroke="#605641" stroke-width="0.6"/>
<polygon points="721.2,719.4 738.1,715.3 729.5,715.4" fill="#7b6f53" stroke="#7b6f53" stroke-width="0.6"/>
<polygon points="721.2,719.4 729.8,722.0 738.1,715.3" fill="#70654b" stroke="#70654b" stroke-width="0.6"/>
<polygon points="729.8,722.0 746.6,720.1 738.1,715.3" fill="#5b513d" stroke="#5b513d" stroke-width="0.6"/>
<polygon points="729.8,722.0 738.3,724.5 746.6,720.1" fill="#685d46" stroke="#685d46" stroke-width="0.6"/>
<polygon points="746.9,731.0 755.2,726.0 746.6,720.1" fill="#494231" stroke="#494231" stroke-width="0.6"/>
<polygon points="738.3,724.5 746.9,731.0 746.6,720.1" fill="#413b2c" stroke="#413b2c" stroke-width="0.6"/>
<polygon points="678.7,735.8 695.5,727.0 687.0,732.6" fill="#86795a" stroke="#86795a" stroke-width="0.6"/>
<polygon points="678.7,735.8 687.2,730.0 695.5,727.0" fill="#86785a" stroke="#86785a" stroke-width="0.6"/>
<polygon points="687.2,730.0 704.1,717.6 695.5,727.0" fill="#827457" stroke="#827457" stroke-width="0.6"/>
<polygon points="687.2,730.0 695.8,719.6 704.1,717.6" fill="#7d7054" stroke="#7d7054" stroke-width="0.6"/>
<polygon points="704.4,721.3 712.7,716.3 704.1,717.6" fill="#87795a" stroke="#87795a" stroke-width="0.6"/>
<polygon points="695.8,719.6 704.4,721.3 704.1,717.6" fill="#645a43" stroke="#645a43" stroke-width="0.6"/>
<polygon points="704.4,721.3 721.2,719.4 712.7,716.3" fill="#655a44" stroke="#655a44" stroke-width="0.6"/>
<polygon points="704.4,721.3 712.9,724.0 721.2,719.4" fill="#675c45" stroke="#675c45" stroke-width="0.6"/>
<polygon points="721.5,724.5 729.8,722.0 721.2,719.4" fill="#5d543e" stroke="#5d543e" stroke-width="0.6"/>
<polygon points="712.9,724.0 721.5,724.5 721.2,719.4" fill="#7a6e52" stroke="#7a6e52" stroke-width="0.6"/>
<polygon points="721.5,724.5 738.3,724.5 729.8,722.0" fill="#5e553f" stroke="#5e553f" stroke-width="0.6"/>
<polygon points="721.5,724.5 730.0,724.3 738.3,724.5" fill="#645a43" stroke="#645a43" stroke-width="0.6"/>
<polygon points="738.6,734.3 746.9,731.0 738.3,724.5" fill="#3d3629" stroke="#3d3629" stroke-width="0.6"/>
<polygon points="730.0,724.3 738.6,734.3 738.3,724.5" fill="#171510" stroke="#171510" stroke-width="0.6"/>
<polygon points="678.9,737.3 687.2,730.0 678.7,735.8" fill="#948563" stroke="#948563" stroke-width="0.6"/>
<polygon points="670.4,739.0 678.9,737.3 678.7,735.8" fill="#807356" stroke="#807356" stroke-width="0.6"/>
<polygon points="678.9,737.3 695.8,719.6 687.2,730.0" fill="#8c7e5e" stroke="#8c7e5e" stroke-width="0.6"/>
<polygon points="678.9,737.3 687.5,734.2 695.8,719.6" fill="#9d8d69" stroke="#9d8d69" stroke-width="0.6"/>
<polygon points="696.1,735.1 704.4,721.3 695.8,719.6" fill="#87795b" stroke="#87795b" stroke-width="0.6"/>
<polygon points="687.5,734.2 696.1,735.1 695.8,719.6" fill="#8d7e5e" stroke="#8d7e5e" stroke-width="0.6"/>
<polygon points="704.6,736.9 712.9,724.0 704.4,721.3" fill="#7e7154" stroke="#7e7154" stroke-width="0.6"/>
<polygon points="696.1,735.1 704.6,736.9 704.4,721.3" fill="#86785a" stroke="#86785a" stroke-width="0.6"/>
<polygon points="704.6,736.9 721.5,724.5 712.9,724.0" fill="#8e805f" stroke="#8e805f" stroke-width="0.6"/>
<polygon points="704.6,736.9 713.2,738.5 721.5,724.5" fill="#87795b" stroke="#87795b" stroke-width="0.6"/>
<polygon points="713.2,738.5 730.0,724.3 721.5,724.5" fill="#928462" stroke="#928462" stroke-width="0.6"/>
<polygon points="713.2,738.5 721.7,738.6 730.0,724.3" fill="#918362" stroke="#918362" stroke-width="0.6"/>
<polygon points="730.3,738.6 738.6,734.3 730.0,724.3" fill="#27231a" stroke="#27231a" stroke-width="0.6"/>
<polygon points="721.7,738.6 730.3,738.6 730.0,724.3" fill="#918362" stroke="#918362" stroke-width="0.6"/>
<polygon points="473.5,717.7 482.1,719.0 490.6,720.3 499.2,721.6 507.7,723.4 516.3,725.3 524.9,727.1 533.4,727.3 542.0,727.5 550.5,727.7 559.1,729.5 567.7,731.4 576.2,733.2 584.8,733.8 593.3,734.3 601.9,734.8 610.5,735.3 619.0,735.8 627.6,736.4 636.1,736.9 644.7,737.4 653.3,737.9 661.8,738.4 670.4,739.0 678.9,737.3 687.5,734.2 696.1,735.1 704.6,736.9 713.2,738.5 721.7,738.6 730.3,738.6 730.3,776.6 473.5,754.5" fill="#6e6349"/>
<polygon points="730.3,738.6 738.6,734.3 746.9,731.0 755.2,726.0 763.5,723.3 771.8,719.7 780.1,717.9 788.4,713.9 796.7,709.9 805.0,705.8 813.3,704.0 813.3,744.7 730.3,776.6" fill="#4b4232"/>
<g stroke="#8d8783" stroke-width="0.9" fill="none">
<line x1="473.5" y1="579.8" x2="729.0" y2="597.5" />
<line x1="729.0" y1="597.5" x2="813.3" y2="575.4" />
<line x1="729.0" y1="597.5" x2="730.3" y2="776.6" />
</g>
<line x1="651.3" y1="612.7" x2="651.3" y2="675.8" stroke="#5895d2" stroke-width="1.70"/>
<polygon points="651.3,681.0 648.3,674.5 654.3,674.5" fill="#5895d2"/>
<line x1="681.3" y1="602.4" x2="681.3" y2="665.8" stroke="#5895d2" stroke-width="1.70"/>
<polygon points="681.3,671.0 678.3,664.5 684.3,664.5" fill="#5895d2"/>
<line x1="713.7" y1="613.4" x2="713.7" y2="676.8" stroke="#5895d2" stroke-width="1.70"/>
<polygon points="713.7,682.0 710.7,675.5 716.7,675.5" fill="#5895d2"/>
<line x1="642.5" y1="681.2" x2="618.9" y2="642.7" stroke="#cc1420" stroke-width="2.00"/>
<polygon points="616.2,638.3 622.2,642.3 617.0,645.4" fill="#cc1420"/>
<line x1="674.4" y1="671.8" x2="674.4" y2="632.9" stroke="#cc1420" stroke-width="2.00"/>
<polygon points="674.4,627.7 677.4,634.2 671.4,634.2" fill="#cc1420"/>
<line x1="716.8" y1="682.6" x2="748.1" y2="654.2" stroke="#cc1420" stroke-width="2.00"/>
<polygon points="752.0,650.7 749.2,657.3 745.2,652.8" fill="#cc1420"/>
<line x1="614.6" y1="733.3" x2="614.6" y2="705.7" stroke="#fff" stroke-width="1.50"/>
<polygon points="614.6,700.5 617.6,707.0 611.6,707.0" fill="#fff"/>
<polygon points="614.6,738.5 617.6,732.0 611.6,732.0" fill="#fff"/>
<line x1="576.9" y1="739.6" x2="665.8" y2="744.7" stroke="#fff" stroke-width="1.50"/>
<polygon points="671.0,745.0 664.3,747.6 664.7,741.6" fill="#fff"/>
<polygon points="571.7,739.3 578.0,742.7 578.4,736.7" fill="#fff"/>
<text x="622" y="725.5" font-family="Liberation Serif, serif" font-style="italic" font-size="18" fill="#fff">c</text>
<text x="630" y="730" font-family="Liberation Serif, serif" font-style="italic" font-size="13.5" fill="#fff">h</text>
<text x="606.5" y="761.5" font-family="Liberation Serif, serif" font-style="italic" font-size="18" fill="#e6e2d8">c</text>
<text x="614.5" y="766" font-family="Liberation Serif, serif" font-style="italic" font-size="13.5" fill="#e6e2d8">w</text>
<text x="589.3" y="544.7" font-family="Liberation Sans, sans-serif" font-weight="bold" font-size="18.2" fill="#111" textLength="182.7" lengthAdjust="spacingAndGlyphs">Round (Röthlisberger)</text>
<text x="486.5" y="622.5" font-family="Liberation Sans, sans-serif" font-size="14.2" fill="#666" textLength="18.5" lengthAdjust="spacingAndGlyphs">Ice</text>
<text x="526.3" y="632.5" font-family="Liberation Sans, sans-serif" font-size="15.3" fill="#cc1420" textLength="108" lengthAdjust="spacingAndGlyphs">Reflected energy</text>
<text x="636.6" y="598" font-family="Liberation Sans, sans-serif" font-size="15.3" fill="#5895d2" textLength="98.6" lengthAdjust="spacingAndGlyphs">Incident energy</text>
<text x="481.6" y="744.5" font-family="Liberation Sans, sans-serif" font-size="15.3" fill="#e3dfd6" textLength="51.5" lengthAdjust="spacingAndGlyphs">Bedrock</text>
<text x="405.3" y="516.4" font-family="Liberation Serif, serif" font-weight="bold" font-size="22" fill="#1a1a1a" textLength="24.7" lengthAdjust="spacingAndGlyphs">(c)</text>
</svg>
</body></html>
